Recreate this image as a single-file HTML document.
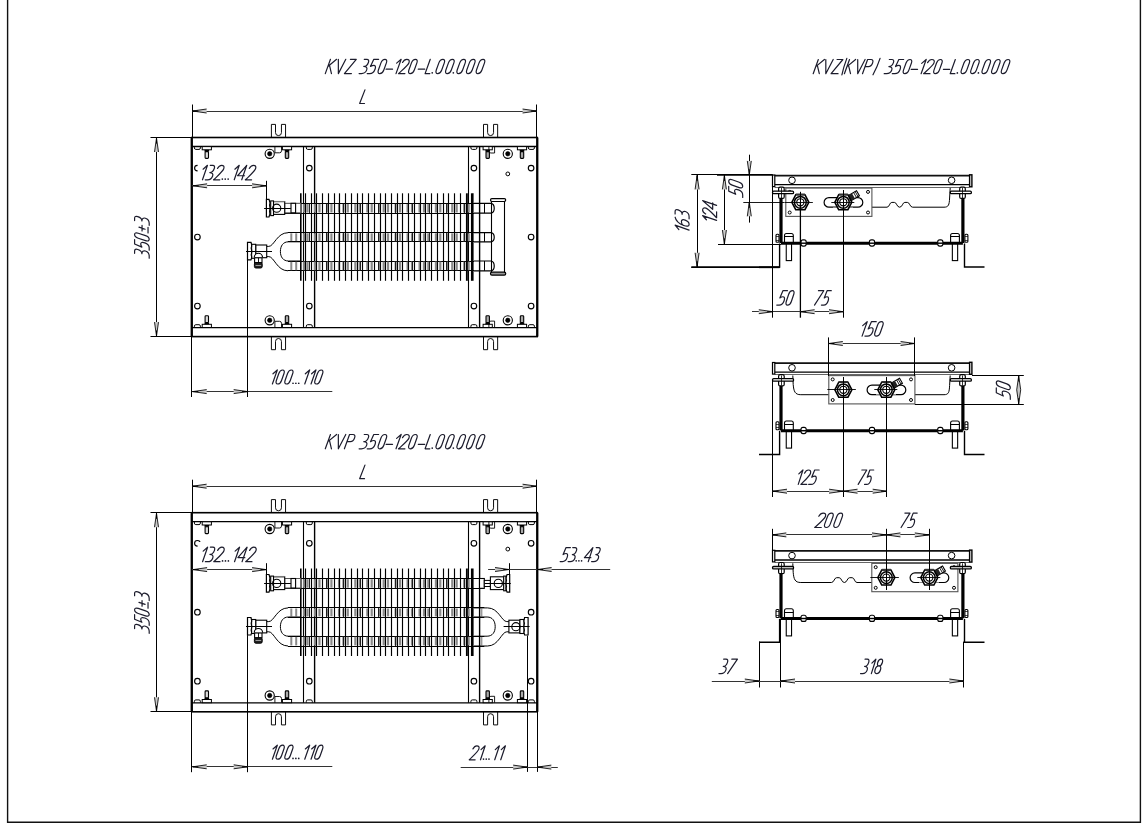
<!DOCTYPE html><html><head><meta charset="utf-8"><style>html,body{margin:0;padding:0;background:#fff;width:1144px;height:824px;overflow:hidden}</style></head><body><svg width="1144" height="824" viewBox="0 0 1144 824" style="display:block">
<rect width="1144" height="824" fill="#fff"/>
<path d="M7.6,0 V822.3 H1140.4 V0" fill="none" stroke="#111" stroke-width="1.4"/>
<line x1="192.50" y1="104.50" x2="192.50" y2="137.50" stroke="#000" stroke-width="1.0"/>
<line x1="536.50" y1="104.50" x2="536.50" y2="137.50" stroke="#000" stroke-width="1.0"/>
<line x1="192.40" y1="111.50" x2="536.80" y2="111.50" stroke="#333" stroke-width="1.2"/>
<path d="M206.60,109.00 L192.60,111.00 L206.60,113.00 Z" fill="#c8c8c8" stroke="none"/>
<path d="M206.60,109.00 L192.60,111.00 L206.60,113.00" fill="none" stroke="#000" stroke-width="0.85" stroke-linejoin="miter"/>
<line x1="192.60" y1="111.00" x2="198.20" y2="111.00" stroke="#000" stroke-width="1.0"/>
<path d="M522.60,113.00 L536.60,111.00 L522.60,109.00 Z" fill="#c8c8c8" stroke="none"/>
<path d="M522.60,113.00 L536.60,111.00 L522.60,109.00" fill="none" stroke="#000" stroke-width="0.85" stroke-linejoin="miter"/>
<line x1="536.60" y1="111.00" x2="531.00" y2="111.00" stroke="#000" stroke-width="1.0"/>
<g transform="translate(359.65,103.50) scale(1.0827,1)" fill="none" stroke="#1c1c2c" stroke-width="1.2" stroke-linecap="round" stroke-linejoin="round"><path transform="translate(0.00,0) matrix(13.600,0,-4.896,13.600,4.896,-13.600)" d="M0,0 L0,1 L0.33,1" vector-effect="non-scaling-stroke"/></g>
<line x1="150.50" y1="137.50" x2="191.90" y2="137.50" stroke="#000" stroke-width="1.1"/>
<line x1="150.50" y1="336.50" x2="191.90" y2="336.50" stroke="#000" stroke-width="1.1"/>
<line x1="156.50" y1="137.50" x2="156.50" y2="336.60" stroke="#000" stroke-width="1.0"/>
<path d="M158.50,152.00 L156.50,138.00 L154.50,152.00 Z" fill="#c8c8c8" stroke="none"/>
<path d="M158.50,152.00 L156.50,138.00 L154.50,152.00" fill="none" stroke="#000" stroke-width="0.85" stroke-linejoin="miter"/>
<line x1="156.50" y1="138.00" x2="156.50" y2="143.60" stroke="#000" stroke-width="1.0"/>
<path d="M154.50,322.10 L156.50,336.10 L158.50,322.10 Z" fill="#c8c8c8" stroke="none"/>
<path d="M154.50,322.10 L156.50,336.10 L158.50,322.10" fill="none" stroke="#000" stroke-width="0.85" stroke-linejoin="miter"/>
<line x1="156.50" y1="336.10" x2="156.50" y2="330.50" stroke="#000" stroke-width="1.0"/>
<g transform="rotate(-90 149.20 258.70) translate(149.75,258.70) scale(0.9133,1)" fill="none" stroke="#1c1c2c" stroke-width="1.2" stroke-linecap="round" stroke-linejoin="round"><path transform="translate(0.00,0) matrix(14.600,0,-5.256,14.600,5.256,-14.600)" d="M0,0 L0.18,0 C0.31,0 0.37,0.09 0.37,0.22 C0.37,0.38 0.27,0.5 0.15,0.5 C0.33,0.5 0.44,0.6 0.44,0.74 C0.44,0.9 0.33,1 0.16,1 L0,1" vector-effect="non-scaling-stroke"/><path transform="translate(8.76,0) matrix(14.600,0,-5.256,14.600,5.256,-14.600)" d="M0.44,0 L0.1,0 L0.05,0.5 C0.12,0.45 0.19,0.42 0.25,0.42 C0.37,0.42 0.44,0.52 0.44,0.7 C0.44,0.9 0.33,1 0.18,1 L0,1" vector-effect="non-scaling-stroke"/><path transform="translate(17.81,0) matrix(14.600,0,-5.256,14.600,5.256,-14.600)" d="M0,0.25 L0,0.75 C0,0.91 0.08,1 0.19,1 C0.30,1 0.38,0.91 0.38,0.75 L0.38,0.25 C0.38,0.09 0.30,0 0.19,0 C0.08,0 0,0.09 0,0.25 Z" vector-effect="non-scaling-stroke"/><path transform="translate(27.16,0) matrix(14.600,0,-5.256,14.600,5.256,-14.600)" d="M0.21,0.30 L0.21,0.72 M0,0.51 L0.42,0.51 M0,0.92 L0.42,0.92" vector-effect="non-scaling-stroke"/><path transform="translate(35.92,0) matrix(14.600,0,-5.256,14.600,5.256,-14.600)" d="M0,0 L0.18,0 C0.31,0 0.37,0.09 0.37,0.22 C0.37,0.38 0.27,0.5 0.15,0.5 C0.33,0.5 0.44,0.6 0.44,0.74 C0.44,0.9 0.33,1 0.16,1 L0,1" vector-effect="non-scaling-stroke"/></g>
<rect x="191.90" y="137.50" width="345.30" height="199.10" stroke="#000" stroke-width="1.6" fill="none"/>
<line x1="191.70" y1="137.50" x2="191.70" y2="336.60" stroke="#000" stroke-width="2.2"/>
<line x1="537.30" y1="137.50" x2="537.30" y2="336.60" stroke="#000" stroke-width="2.2"/>
<line x1="191.90" y1="146.50" x2="537.20" y2="146.50" stroke="#000" stroke-width="1.3"/>
<line x1="191.90" y1="327.60" x2="537.20" y2="327.60" stroke="#000" stroke-width="1.3"/>
<path d="M271.40,137.40 V124.40 H275.50 V132.60 A2.95,2.95 0 0 0 281.45,132.60 V124.40 H285.55 V137.40" stroke="#000" stroke-width="0.95" fill="none" />
<path d="M271.40,336.60 V349.70 H275.50 V341.50 A2.95,2.95 0 0 1 281.45,341.50 V349.70 H285.55 V336.60" stroke="#000" stroke-width="0.95" fill="none" />
<path d="M483.50,137.40 V124.40 H487.60 V132.60 A2.95,2.95 0 0 0 493.55,132.60 V124.40 H497.65 V137.40" stroke="#000" stroke-width="0.95" fill="none" />
<path d="M483.50,336.60 V349.70 H487.60 V341.50 A2.95,2.95 0 0 1 493.55,341.50 V349.70 H497.65 V336.60" stroke="#000" stroke-width="0.95" fill="none" />
<line x1="303.50" y1="146.50" x2="303.50" y2="327.60" stroke="#000" stroke-width="1.1"/>
<line x1="314.60" y1="146.50" x2="314.60" y2="327.60" stroke="#000" stroke-width="1.4"/>
<line x1="468.50" y1="146.50" x2="468.50" y2="327.60" stroke="#000" stroke-width="1.1"/>
<line x1="479.60" y1="146.50" x2="479.60" y2="327.60" stroke="#000" stroke-width="1.4"/>
<path d="M194.40,146.60 V147.90 Q194.40,149.40 195.80,149.40 H199.00 Q200.40,149.40 200.40,147.90 V146.60" stroke="#000" stroke-width="1.0" fill="none" />
<path d="M306.30,146.60 V147.90 Q306.30,149.40 307.70,149.40 H310.90 Q312.30,149.40 312.30,147.90 V146.60" stroke="#000" stroke-width="1.0" fill="none" />
<path d="M470.90,146.60 V147.90 Q470.90,149.40 472.30,149.40 H475.50 Q476.90,149.40 476.90,147.90 V146.60" stroke="#000" stroke-width="1.0" fill="none" />
<path d="M528.40,146.60 V147.90 Q528.40,149.40 529.80,149.40 H533.00 Q534.40,149.40 534.40,147.90 V146.60" stroke="#000" stroke-width="1.0" fill="none" />
<rect x="202.20" y="146.60" width="9.20" height="3.20" stroke="#000" stroke-width="1.0" fill="#fff"/>
<rect x="204.50" y="149.80" width="4.60" height="1.80" stroke="#000" stroke-width="0" fill="#000"/>
<rect x="205.10" y="151.60" width="3.4" height="6.80" rx="0.8" fill="#ddd" stroke="#000" stroke-width="1.1"/>
<rect x="282.40" y="146.60" width="9.20" height="3.20" stroke="#000" stroke-width="1.0" fill="#fff"/>
<rect x="284.70" y="149.80" width="4.60" height="1.80" stroke="#000" stroke-width="0" fill="#000"/>
<rect x="285.30" y="151.60" width="3.4" height="6.80" rx="0.8" fill="#aaa" stroke="#000" stroke-width="1.1"/>
<rect x="483.10" y="146.60" width="9.20" height="3.20" stroke="#000" stroke-width="1.0" fill="#fff"/>
<rect x="485.40" y="149.80" width="4.60" height="1.80" stroke="#000" stroke-width="0" fill="#000"/>
<rect x="486.00" y="151.60" width="3.4" height="6.80" rx="0.8" fill="#aaa" stroke="#000" stroke-width="1.1"/>
<rect x="517.40" y="146.60" width="9.20" height="3.20" stroke="#000" stroke-width="1.0" fill="#fff"/>
<rect x="519.70" y="149.80" width="4.60" height="1.80" stroke="#000" stroke-width="0" fill="#000"/>
<rect x="520.30" y="151.60" width="3.4" height="6.80" rx="0.8" fill="#aaa" stroke="#000" stroke-width="1.1"/>
<circle cx="269.70" cy="153.80" r="4.60" stroke="#000" stroke-width="1.1" fill="none"/>
<circle cx="269.70" cy="153.80" r="2.20" stroke="#000" stroke-width="0.6" fill="#000"/>
<circle cx="507.80" cy="153.80" r="4.60" stroke="#000" stroke-width="1.1" fill="none"/>
<circle cx="507.80" cy="153.80" r="2.20" stroke="#000" stroke-width="0.6" fill="#000"/>
<path d="M274.90,146.60 V152.80 H279.50 Q281.50,152.80 281.50,150.80 V146.60" stroke="#000" stroke-width="0.9" fill="none" />
<path d="M494.60,146.60 V153.00 H490.90 Q488.90,153.00 488.90,151.00 V146.60" stroke="#000" stroke-width="0.9" fill="none" />
<circle cx="197.40" cy="168.10" r="2.80" stroke="#000" stroke-width="1.15" fill="none"/>
<circle cx="309.30" cy="168.10" r="2.80" stroke="#000" stroke-width="1.15" fill="none"/>
<circle cx="473.90" cy="168.10" r="2.80" stroke="#000" stroke-width="1.15" fill="none"/>
<circle cx="531.10" cy="168.10" r="2.80" stroke="#000" stroke-width="1.15" fill="none"/>
<path d="M194.40,327.50 V326.20 Q194.40,324.70 195.80,324.70 H199.00 Q200.40,324.70 200.40,326.20 V327.50" stroke="#000" stroke-width="1.0" fill="none" />
<path d="M306.30,327.50 V326.20 Q306.30,324.70 307.70,324.70 H310.90 Q312.30,324.70 312.30,326.20 V327.50" stroke="#000" stroke-width="1.0" fill="none" />
<path d="M470.90,327.50 V326.20 Q470.90,324.70 472.30,324.70 H475.50 Q476.90,324.70 476.90,326.20 V327.50" stroke="#000" stroke-width="1.0" fill="none" />
<path d="M528.40,327.50 V326.20 Q528.40,324.70 529.80,324.70 H533.00 Q534.40,324.70 534.40,326.20 V327.50" stroke="#000" stroke-width="1.0" fill="none" />
<rect x="202.20" y="324.30" width="9.20" height="3.20" stroke="#000" stroke-width="1.0" fill="#fff"/>
<rect x="204.50" y="322.50" width="4.60" height="1.80" stroke="#000" stroke-width="0" fill="#000"/>
<rect x="205.10" y="315.70" width="3.4" height="6.80" rx="0.8" fill="#ddd" stroke="#000" stroke-width="1.1"/>
<rect x="282.40" y="324.30" width="9.20" height="3.20" stroke="#000" stroke-width="1.0" fill="#fff"/>
<rect x="284.70" y="322.50" width="4.60" height="1.80" stroke="#000" stroke-width="0" fill="#000"/>
<rect x="285.30" y="315.70" width="3.4" height="6.80" rx="0.8" fill="#aaa" stroke="#000" stroke-width="1.1"/>
<rect x="483.10" y="324.30" width="9.20" height="3.20" stroke="#000" stroke-width="1.0" fill="#fff"/>
<rect x="485.40" y="322.50" width="4.60" height="1.80" stroke="#000" stroke-width="0" fill="#000"/>
<rect x="486.00" y="315.70" width="3.4" height="6.80" rx="0.8" fill="#aaa" stroke="#000" stroke-width="1.1"/>
<rect x="517.40" y="324.30" width="9.20" height="3.20" stroke="#000" stroke-width="1.0" fill="#fff"/>
<rect x="519.70" y="322.50" width="4.60" height="1.80" stroke="#000" stroke-width="0" fill="#000"/>
<rect x="520.30" y="315.70" width="3.4" height="6.80" rx="0.8" fill="#aaa" stroke="#000" stroke-width="1.1"/>
<circle cx="269.70" cy="320.30" r="4.60" stroke="#000" stroke-width="1.1" fill="none"/>
<circle cx="269.70" cy="320.30" r="2.20" stroke="#000" stroke-width="0.6" fill="#000"/>
<circle cx="507.80" cy="320.30" r="4.60" stroke="#000" stroke-width="1.1" fill="none"/>
<circle cx="507.80" cy="320.30" r="2.20" stroke="#000" stroke-width="0.6" fill="#000"/>
<path d="M274.90,327.50 V321.30 H279.50 Q281.50,321.30 281.50,323.30 V327.50" stroke="#000" stroke-width="0.9" fill="none" />
<path d="M494.60,327.50 V321.10 H490.90 Q488.90,321.10 488.90,323.10 V327.50" stroke="#000" stroke-width="0.9" fill="none" />
<circle cx="197.40" cy="306.00" r="2.80" stroke="#000" stroke-width="1.15" fill="none"/>
<circle cx="309.30" cy="306.00" r="2.80" stroke="#000" stroke-width="1.15" fill="none"/>
<circle cx="473.90" cy="306.00" r="2.80" stroke="#000" stroke-width="1.15" fill="none"/>
<circle cx="531.10" cy="306.00" r="2.80" stroke="#000" stroke-width="1.15" fill="none"/>
<circle cx="197.40" cy="237.00" r="2.80" stroke="#000" stroke-width="1.15" fill="none"/>
<circle cx="531.10" cy="237.00" r="2.80" stroke="#000" stroke-width="1.15" fill="none"/>
<circle cx="507.80" cy="173.90" r="1.90" stroke="#000" stroke-width="1.0" fill="none"/>
<line x1="284.80" y1="203.50" x2="474.00" y2="203.50" stroke="#000" stroke-width="1.2"/>
<line x1="284.80" y1="213.50" x2="474.00" y2="213.50" stroke="#000" stroke-width="1.2"/>
<line x1="288.00" y1="232.50" x2="474.00" y2="232.50" stroke="#000" stroke-width="1.2"/>
<line x1="288.00" y1="241.50" x2="474.00" y2="241.50" stroke="#000" stroke-width="1.2"/>
<rect x="290.30" y="233.30" width="2.00" height="7.90" stroke="#000" stroke-width="0" fill="#8a8a8a"/>
<rect x="295.20" y="233.30" width="2.00" height="7.90" stroke="#000" stroke-width="0" fill="#8a8a8a"/>
<line x1="288.00" y1="261.50" x2="474.00" y2="261.50" stroke="#000" stroke-width="1.2"/>
<line x1="288.00" y1="270.50" x2="474.00" y2="270.50" stroke="#000" stroke-width="1.2"/>
<rect x="290.30" y="261.60" width="2.00" height="8.60" stroke="#000" stroke-width="0" fill="#8a8a8a"/>
<rect x="295.20" y="261.60" width="2.00" height="8.60" stroke="#000" stroke-width="0" fill="#8a8a8a"/>
<rect x="303.05" y="204.00" width="2.20" height="8.50" stroke="#000" stroke-width="0" fill="#8a8a8a"/>
<rect x="306.40" y="204.00" width="2.20" height="8.50" stroke="#000" stroke-width="0" fill="#8a8a8a"/>
<line x1="309.50" y1="203.40" x2="309.50" y2="213.10" stroke="#111" stroke-width="0.9"/>
<rect x="313.98" y="204.00" width="2.20" height="8.50" stroke="#000" stroke-width="0" fill="#8a8a8a"/>
<rect x="318.37" y="204.00" width="2.20" height="8.50" stroke="#000" stroke-width="0" fill="#8a8a8a"/>
<rect x="325.95" y="204.00" width="2.20" height="8.50" stroke="#000" stroke-width="0" fill="#8a8a8a"/>
<line x1="326.50" y1="203.40" x2="326.50" y2="213.10" stroke="#111" stroke-width="0.9"/>
<rect x="330.33" y="204.00" width="2.20" height="8.50" stroke="#000" stroke-width="0" fill="#8a8a8a"/>
<rect x="337.92" y="204.00" width="2.20" height="8.50" stroke="#000" stroke-width="0" fill="#8a8a8a"/>
<rect x="342.30" y="204.00" width="2.20" height="8.50" stroke="#000" stroke-width="0" fill="#8a8a8a"/>
<line x1="343.50" y1="203.40" x2="343.50" y2="213.10" stroke="#111" stroke-width="0.9"/>
<rect x="346.68" y="204.00" width="2.20" height="8.50" stroke="#000" stroke-width="0" fill="#8a8a8a"/>
<rect x="354.26" y="204.00" width="2.20" height="8.50" stroke="#000" stroke-width="0" fill="#8a8a8a"/>
<rect x="358.65" y="204.00" width="2.20" height="8.50" stroke="#000" stroke-width="0" fill="#8a8a8a"/>
<line x1="360.50" y1="203.40" x2="360.50" y2="213.10" stroke="#111" stroke-width="0.9"/>
<rect x="366.23" y="204.00" width="2.20" height="8.50" stroke="#000" stroke-width="0" fill="#8a8a8a"/>
<rect x="370.61" y="204.00" width="2.20" height="8.50" stroke="#000" stroke-width="0" fill="#8a8a8a"/>
<rect x="378.20" y="204.00" width="2.20" height="8.50" stroke="#000" stroke-width="0" fill="#8a8a8a"/>
<line x1="378.50" y1="203.40" x2="378.50" y2="213.10" stroke="#111" stroke-width="0.9"/>
<rect x="382.58" y="204.00" width="2.20" height="8.50" stroke="#000" stroke-width="0" fill="#8a8a8a"/>
<rect x="386.96" y="204.00" width="2.20" height="8.50" stroke="#000" stroke-width="0" fill="#8a8a8a"/>
<rect x="394.55" y="204.00" width="2.20" height="8.50" stroke="#000" stroke-width="0" fill="#8a8a8a"/>
<line x1="395.50" y1="203.40" x2="395.50" y2="213.10" stroke="#111" stroke-width="0.9"/>
<rect x="398.93" y="204.00" width="2.20" height="8.50" stroke="#000" stroke-width="0" fill="#8a8a8a"/>
<rect x="406.51" y="204.00" width="2.20" height="8.50" stroke="#000" stroke-width="0" fill="#8a8a8a"/>
<rect x="410.89" y="204.00" width="2.20" height="8.50" stroke="#000" stroke-width="0" fill="#8a8a8a"/>
<line x1="412.50" y1="203.40" x2="412.50" y2="213.10" stroke="#111" stroke-width="0.9"/>
<rect x="418.48" y="204.00" width="2.20" height="8.50" stroke="#000" stroke-width="0" fill="#8a8a8a"/>
<rect x="422.86" y="204.00" width="2.20" height="8.50" stroke="#000" stroke-width="0" fill="#8a8a8a"/>
<rect x="427.24" y="204.00" width="2.20" height="8.50" stroke="#000" stroke-width="0" fill="#8a8a8a"/>
<line x1="429.50" y1="203.40" x2="429.50" y2="213.10" stroke="#111" stroke-width="0.9"/>
<rect x="434.83" y="204.00" width="2.20" height="8.50" stroke="#000" stroke-width="0" fill="#8a8a8a"/>
<rect x="439.21" y="204.00" width="2.20" height="8.50" stroke="#000" stroke-width="0" fill="#8a8a8a"/>
<rect x="446.79" y="204.00" width="2.20" height="8.50" stroke="#000" stroke-width="0" fill="#8a8a8a"/>
<line x1="446.50" y1="203.40" x2="446.50" y2="213.10" stroke="#111" stroke-width="0.9"/>
<rect x="451.18" y="204.00" width="2.20" height="8.50" stroke="#000" stroke-width="0" fill="#8a8a8a"/>
<rect x="455.56" y="204.00" width="2.20" height="8.50" stroke="#000" stroke-width="0" fill="#8a8a8a"/>
<rect x="463.14" y="204.00" width="2.20" height="8.50" stroke="#000" stroke-width="0" fill="#8a8a8a"/>
<line x1="464.50" y1="203.40" x2="464.50" y2="213.10" stroke="#111" stroke-width="0.9"/>
<rect x="467.52" y="204.00" width="2.20" height="8.50" stroke="#000" stroke-width="0" fill="#8a8a8a"/>
<rect x="303.05" y="233.30" width="2.20" height="7.90" stroke="#000" stroke-width="0" fill="#8a8a8a"/>
<rect x="306.40" y="233.30" width="2.20" height="7.90" stroke="#000" stroke-width="0" fill="#8a8a8a"/>
<line x1="309.50" y1="232.70" x2="309.50" y2="241.80" stroke="#111" stroke-width="0.9"/>
<rect x="313.98" y="233.30" width="2.20" height="7.90" stroke="#000" stroke-width="0" fill="#8a8a8a"/>
<rect x="318.37" y="233.30" width="2.20" height="7.90" stroke="#000" stroke-width="0" fill="#8a8a8a"/>
<rect x="325.95" y="233.30" width="2.20" height="7.90" stroke="#000" stroke-width="0" fill="#8a8a8a"/>
<line x1="326.50" y1="232.70" x2="326.50" y2="241.80" stroke="#111" stroke-width="0.9"/>
<rect x="330.33" y="233.30" width="2.20" height="7.90" stroke="#000" stroke-width="0" fill="#8a8a8a"/>
<rect x="337.92" y="233.30" width="2.20" height="7.90" stroke="#000" stroke-width="0" fill="#8a8a8a"/>
<rect x="342.30" y="233.30" width="2.20" height="7.90" stroke="#000" stroke-width="0" fill="#8a8a8a"/>
<line x1="343.50" y1="232.70" x2="343.50" y2="241.80" stroke="#111" stroke-width="0.9"/>
<rect x="346.68" y="233.30" width="2.20" height="7.90" stroke="#000" stroke-width="0" fill="#8a8a8a"/>
<rect x="354.26" y="233.30" width="2.20" height="7.90" stroke="#000" stroke-width="0" fill="#8a8a8a"/>
<rect x="358.65" y="233.30" width="2.20" height="7.90" stroke="#000" stroke-width="0" fill="#8a8a8a"/>
<line x1="360.50" y1="232.70" x2="360.50" y2="241.80" stroke="#111" stroke-width="0.9"/>
<rect x="366.23" y="233.30" width="2.20" height="7.90" stroke="#000" stroke-width="0" fill="#8a8a8a"/>
<rect x="370.61" y="233.30" width="2.20" height="7.90" stroke="#000" stroke-width="0" fill="#8a8a8a"/>
<rect x="378.20" y="233.30" width="2.20" height="7.90" stroke="#000" stroke-width="0" fill="#8a8a8a"/>
<line x1="378.50" y1="232.70" x2="378.50" y2="241.80" stroke="#111" stroke-width="0.9"/>
<rect x="382.58" y="233.30" width="2.20" height="7.90" stroke="#000" stroke-width="0" fill="#8a8a8a"/>
<rect x="386.96" y="233.30" width="2.20" height="7.90" stroke="#000" stroke-width="0" fill="#8a8a8a"/>
<rect x="394.55" y="233.30" width="2.20" height="7.90" stroke="#000" stroke-width="0" fill="#8a8a8a"/>
<line x1="395.50" y1="232.70" x2="395.50" y2="241.80" stroke="#111" stroke-width="0.9"/>
<rect x="398.93" y="233.30" width="2.20" height="7.90" stroke="#000" stroke-width="0" fill="#8a8a8a"/>
<rect x="406.51" y="233.30" width="2.20" height="7.90" stroke="#000" stroke-width="0" fill="#8a8a8a"/>
<rect x="410.89" y="233.30" width="2.20" height="7.90" stroke="#000" stroke-width="0" fill="#8a8a8a"/>
<line x1="412.50" y1="232.70" x2="412.50" y2="241.80" stroke="#111" stroke-width="0.9"/>
<rect x="418.48" y="233.30" width="2.20" height="7.90" stroke="#000" stroke-width="0" fill="#8a8a8a"/>
<rect x="422.86" y="233.30" width="2.20" height="7.90" stroke="#000" stroke-width="0" fill="#8a8a8a"/>
<rect x="427.24" y="233.30" width="2.20" height="7.90" stroke="#000" stroke-width="0" fill="#8a8a8a"/>
<line x1="429.50" y1="232.70" x2="429.50" y2="241.80" stroke="#111" stroke-width="0.9"/>
<rect x="434.83" y="233.30" width="2.20" height="7.90" stroke="#000" stroke-width="0" fill="#8a8a8a"/>
<rect x="439.21" y="233.30" width="2.20" height="7.90" stroke="#000" stroke-width="0" fill="#8a8a8a"/>
<rect x="446.79" y="233.30" width="2.20" height="7.90" stroke="#000" stroke-width="0" fill="#8a8a8a"/>
<line x1="446.50" y1="232.70" x2="446.50" y2="241.80" stroke="#111" stroke-width="0.9"/>
<rect x="451.18" y="233.30" width="2.20" height="7.90" stroke="#000" stroke-width="0" fill="#8a8a8a"/>
<rect x="455.56" y="233.30" width="2.20" height="7.90" stroke="#000" stroke-width="0" fill="#8a8a8a"/>
<rect x="463.14" y="233.30" width="2.20" height="7.90" stroke="#000" stroke-width="0" fill="#8a8a8a"/>
<line x1="464.50" y1="232.70" x2="464.50" y2="241.80" stroke="#111" stroke-width="0.9"/>
<rect x="467.52" y="233.30" width="2.20" height="7.90" stroke="#000" stroke-width="0" fill="#8a8a8a"/>
<rect x="303.05" y="261.60" width="2.20" height="8.60" stroke="#000" stroke-width="0" fill="#8a8a8a"/>
<rect x="306.40" y="261.60" width="2.20" height="8.60" stroke="#000" stroke-width="0" fill="#8a8a8a"/>
<line x1="309.50" y1="261.00" x2="309.50" y2="270.80" stroke="#111" stroke-width="0.9"/>
<rect x="313.98" y="261.60" width="2.20" height="8.60" stroke="#000" stroke-width="0" fill="#8a8a8a"/>
<rect x="318.37" y="261.60" width="2.20" height="8.60" stroke="#000" stroke-width="0" fill="#8a8a8a"/>
<rect x="325.95" y="261.60" width="2.20" height="8.60" stroke="#000" stroke-width="0" fill="#8a8a8a"/>
<line x1="326.50" y1="261.00" x2="326.50" y2="270.80" stroke="#111" stroke-width="0.9"/>
<rect x="330.33" y="261.60" width="2.20" height="8.60" stroke="#000" stroke-width="0" fill="#8a8a8a"/>
<rect x="337.92" y="261.60" width="2.20" height="8.60" stroke="#000" stroke-width="0" fill="#8a8a8a"/>
<rect x="342.30" y="261.60" width="2.20" height="8.60" stroke="#000" stroke-width="0" fill="#8a8a8a"/>
<line x1="343.50" y1="261.00" x2="343.50" y2="270.80" stroke="#111" stroke-width="0.9"/>
<rect x="346.68" y="261.60" width="2.20" height="8.60" stroke="#000" stroke-width="0" fill="#8a8a8a"/>
<rect x="354.26" y="261.60" width="2.20" height="8.60" stroke="#000" stroke-width="0" fill="#8a8a8a"/>
<rect x="358.65" y="261.60" width="2.20" height="8.60" stroke="#000" stroke-width="0" fill="#8a8a8a"/>
<line x1="360.50" y1="261.00" x2="360.50" y2="270.80" stroke="#111" stroke-width="0.9"/>
<rect x="366.23" y="261.60" width="2.20" height="8.60" stroke="#000" stroke-width="0" fill="#8a8a8a"/>
<rect x="370.61" y="261.60" width="2.20" height="8.60" stroke="#000" stroke-width="0" fill="#8a8a8a"/>
<rect x="378.20" y="261.60" width="2.20" height="8.60" stroke="#000" stroke-width="0" fill="#8a8a8a"/>
<line x1="378.50" y1="261.00" x2="378.50" y2="270.80" stroke="#111" stroke-width="0.9"/>
<rect x="382.58" y="261.60" width="2.20" height="8.60" stroke="#000" stroke-width="0" fill="#8a8a8a"/>
<rect x="386.96" y="261.60" width="2.20" height="8.60" stroke="#000" stroke-width="0" fill="#8a8a8a"/>
<rect x="394.55" y="261.60" width="2.20" height="8.60" stroke="#000" stroke-width="0" fill="#8a8a8a"/>
<line x1="395.50" y1="261.00" x2="395.50" y2="270.80" stroke="#111" stroke-width="0.9"/>
<rect x="398.93" y="261.60" width="2.20" height="8.60" stroke="#000" stroke-width="0" fill="#8a8a8a"/>
<rect x="406.51" y="261.60" width="2.20" height="8.60" stroke="#000" stroke-width="0" fill="#8a8a8a"/>
<rect x="410.89" y="261.60" width="2.20" height="8.60" stroke="#000" stroke-width="0" fill="#8a8a8a"/>
<line x1="412.50" y1="261.00" x2="412.50" y2="270.80" stroke="#111" stroke-width="0.9"/>
<rect x="418.48" y="261.60" width="2.20" height="8.60" stroke="#000" stroke-width="0" fill="#8a8a8a"/>
<rect x="422.86" y="261.60" width="2.20" height="8.60" stroke="#000" stroke-width="0" fill="#8a8a8a"/>
<rect x="427.24" y="261.60" width="2.20" height="8.60" stroke="#000" stroke-width="0" fill="#8a8a8a"/>
<line x1="429.50" y1="261.00" x2="429.50" y2="270.80" stroke="#111" stroke-width="0.9"/>
<rect x="434.83" y="261.60" width="2.20" height="8.60" stroke="#000" stroke-width="0" fill="#8a8a8a"/>
<rect x="439.21" y="261.60" width="2.20" height="8.60" stroke="#000" stroke-width="0" fill="#8a8a8a"/>
<rect x="446.79" y="261.60" width="2.20" height="8.60" stroke="#000" stroke-width="0" fill="#8a8a8a"/>
<line x1="446.50" y1="261.00" x2="446.50" y2="270.80" stroke="#111" stroke-width="0.9"/>
<rect x="451.18" y="261.60" width="2.20" height="8.60" stroke="#000" stroke-width="0" fill="#8a8a8a"/>
<rect x="455.56" y="261.60" width="2.20" height="8.60" stroke="#000" stroke-width="0" fill="#8a8a8a"/>
<rect x="463.14" y="261.60" width="2.20" height="8.60" stroke="#000" stroke-width="0" fill="#8a8a8a"/>
<line x1="464.50" y1="261.00" x2="464.50" y2="270.80" stroke="#111" stroke-width="0.9"/>
<rect x="467.52" y="261.60" width="2.20" height="8.60" stroke="#000" stroke-width="0" fill="#8a8a8a"/>
<line x1="300.80" y1="193.30" x2="300.80" y2="280.80" stroke="#000" stroke-width="1.6"/>
<line x1="305.50" y1="193.30" x2="305.50" y2="280.80" stroke="#000" stroke-width="1.15"/>
<line x1="311.50" y1="193.30" x2="311.50" y2="280.80" stroke="#000" stroke-width="1.15"/>
<line x1="316.50" y1="193.30" x2="316.50" y2="280.80" stroke="#000" stroke-width="1.15"/>
<line x1="322.50" y1="193.30" x2="322.50" y2="280.80" stroke="#000" stroke-width="1.15"/>
<line x1="328.50" y1="193.30" x2="328.50" y2="280.80" stroke="#000" stroke-width="1.15"/>
<line x1="334.50" y1="193.30" x2="334.50" y2="280.80" stroke="#000" stroke-width="1.15"/>
<line x1="339.50" y1="193.30" x2="339.50" y2="280.80" stroke="#000" stroke-width="1.15"/>
<line x1="345.50" y1="193.30" x2="345.50" y2="280.80" stroke="#000" stroke-width="1.15"/>
<line x1="351.50" y1="193.30" x2="351.50" y2="280.80" stroke="#000" stroke-width="1.15"/>
<line x1="357.50" y1="193.30" x2="357.50" y2="280.80" stroke="#000" stroke-width="1.15"/>
<line x1="362.50" y1="193.30" x2="362.50" y2="280.80" stroke="#000" stroke-width="1.15"/>
<line x1="368.50" y1="193.30" x2="368.50" y2="280.80" stroke="#000" stroke-width="1.15"/>
<line x1="374.50" y1="193.30" x2="374.50" y2="280.80" stroke="#000" stroke-width="1.15"/>
<line x1="380.50" y1="193.30" x2="380.50" y2="280.80" stroke="#000" stroke-width="1.15"/>
<line x1="385.50" y1="193.30" x2="385.50" y2="280.80" stroke="#000" stroke-width="1.15"/>
<line x1="391.50" y1="193.30" x2="391.50" y2="280.80" stroke="#000" stroke-width="1.15"/>
<line x1="397.50" y1="193.30" x2="397.50" y2="280.80" stroke="#000" stroke-width="1.15"/>
<line x1="402.50" y1="193.30" x2="402.50" y2="280.80" stroke="#000" stroke-width="1.15"/>
<line x1="408.50" y1="193.30" x2="408.50" y2="280.80" stroke="#000" stroke-width="1.15"/>
<line x1="414.50" y1="193.30" x2="414.50" y2="280.80" stroke="#000" stroke-width="1.15"/>
<line x1="420.50" y1="193.30" x2="420.50" y2="280.80" stroke="#000" stroke-width="1.15"/>
<line x1="425.50" y1="193.30" x2="425.50" y2="280.80" stroke="#000" stroke-width="1.15"/>
<line x1="431.50" y1="193.30" x2="431.50" y2="280.80" stroke="#000" stroke-width="1.15"/>
<line x1="437.50" y1="193.30" x2="437.50" y2="280.80" stroke="#000" stroke-width="1.15"/>
<line x1="443.50" y1="193.30" x2="443.50" y2="280.80" stroke="#000" stroke-width="1.15"/>
<line x1="448.50" y1="193.30" x2="448.50" y2="280.80" stroke="#000" stroke-width="1.15"/>
<line x1="454.50" y1="193.30" x2="454.50" y2="280.80" stroke="#000" stroke-width="1.15"/>
<line x1="460.50" y1="193.30" x2="460.50" y2="280.80" stroke="#000" stroke-width="1.15"/>
<line x1="466.50" y1="193.30" x2="466.50" y2="280.80" stroke="#000" stroke-width="1.15"/>
<line x1="471.50" y1="193.30" x2="471.50" y2="280.80" stroke="#000" stroke-width="1.15"/>
<line x1="472.80" y1="193.30" x2="472.80" y2="280.80" stroke="#000" stroke-width="1.6"/>
<line x1="467.50" y1="193.30" x2="467.50" y2="280.80" stroke="#000" stroke-width="0.8"/>
<rect x="284.70" y="203.30" width="16.00" height="9.50" stroke="#555" stroke-width="1.0" fill="#fff"/>
<rect x="291.00" y="203.30" width="4.60" height="9.50" stroke="#000" stroke-width="1.1" fill="#fff"/>
<rect x="273.50" y="201.60" width="11.20" height="12.80" stroke="#000" stroke-width="1.1" fill="#fff"/>
<line x1="273.50" y1="201.50" x2="284.70" y2="201.50" stroke="#777" stroke-width="1.1"/>
<rect x="270.70" y="200.90" width="2.80" height="14.70" stroke="#000" stroke-width="1.1" fill="#fff"/>
<circle cx="276.70" cy="208.20" r="4.10" stroke="#000" stroke-width="1.1" fill="none"/>
<path d="M266.4,199.3 H269.0 Q270.5,203 269.6,205 Q270.5,208.2 269.6,211.4 Q270.5,213.5 269.0,217.0 H266.4 Z" stroke="#000" stroke-width="1.2" fill="#fff" />
<line x1="264.10" y1="208.50" x2="290.90" y2="208.50" stroke="#000" stroke-width="1.0"/>
<path d="M266.7,246.4 L268.8,246.4 C274,246.4 277,232.7 288,232.7 M266.7,256.6 L268.8,256.6 C274,256.6 277,270.8 288,270.8" stroke="#000" stroke-width="1.0" fill="none" />
<path d="M300.8,241.8 L288.5,241.8 C283.0,241.8 280.4,246.0 280.4,251.5 C280.4,256.8 283.0,261.0 288.5,261.0 L300.8,261.0" stroke="#000" stroke-width="1.0" fill="none" />
<rect x="255.70" y="245.00" width="11.00" height="12.70" stroke="#000" stroke-width="1.1" fill="#fff"/>
<rect x="251.60" y="244.30" width="4.10" height="14.00" stroke="#000" stroke-width="1.1" fill="#fff"/>
<path d="M247.5,242.3 H251.0 Q252.2,246 251.2,248 Q252.2,251.5 251.2,255 Q252.2,257 251.0,259.8 H247.5 Z" stroke="#000" stroke-width="1.2" fill="#fff" />
<path d="M254.2,257.50 A4.2,4.2 0 0 1 262.6,257.50" fill="#fff" stroke="#000" stroke-width="1.1"/>
<rect x="254.60" y="257.80" width="7.40" height="4.80" stroke="#000" stroke-width="1.1" fill="#fff"/>
<line x1="258.50" y1="257.80" x2="258.50" y2="262.60" stroke="#000" stroke-width="0.9"/>
<rect x="254.4" y="262.60" width="7.8" height="5.4" rx="1.5" fill="#222" stroke="#000" stroke-width="1"/>
<line x1="255.50" y1="265.50" x2="261.20" y2="265.50" stroke="#bbb" stroke-width="0.8"/>
<line x1="246.00" y1="251.50" x2="272.00" y2="251.50" stroke="#000" stroke-width="1.0"/>
<line x1="491.50" y1="200.50" x2="491.50" y2="273.00" stroke="#000" stroke-width="1.1"/>
<line x1="504.50" y1="200.50" x2="504.50" y2="273.00" stroke="#000" stroke-width="1.1"/>
<rect x="490.5" y="198.70" width="15.2" height="2.8" rx="1.4" fill="#fff" stroke="#000" stroke-width="1.2"/>
<rect x="490.5" y="272.20" width="15.2" height="3.0" rx="1.4" fill="#999" stroke="#000" stroke-width="1.2"/>
<path d="M474,203.4 L491.3,203.4 C495.2,204.4 495.2,212.1 491.3,213.1 L474,213.1" stroke="#000" stroke-width="1.2" fill="none" />
<line x1="484.50" y1="203.40" x2="484.50" y2="213.10" stroke="#000" stroke-width="1.0"/>
<path d="M474,232.7 L491.3,232.7 C495.2,233.7 495.2,240.8 491.3,241.8 L474,241.8" stroke="#000" stroke-width="1.2" fill="none" />
<line x1="484.50" y1="232.70" x2="484.50" y2="241.80" stroke="#000" stroke-width="1.0"/>
<path d="M474,261.0 L491.3,261.0 C495.2,262.0 495.2,269.8 491.3,270.8 L474,270.8" stroke="#000" stroke-width="1.2" fill="none" />
<line x1="484.50" y1="261.00" x2="484.50" y2="270.80" stroke="#000" stroke-width="1.0"/>
<line x1="266.50" y1="180.80" x2="266.50" y2="199.60" stroke="#000" stroke-width="1.0"/>
<line x1="191.90" y1="185.50" x2="266.30" y2="185.50" stroke="#333" stroke-width="1.0"/>
<path d="M207.10,183.80 L193.10,185.80 L207.10,187.80 Z" fill="#c8c8c8" stroke="none"/>
<path d="M207.10,183.80 L193.10,185.80 L207.10,187.80" fill="none" stroke="#000" stroke-width="0.85" stroke-linejoin="miter"/>
<line x1="193.10" y1="185.80" x2="198.70" y2="185.80" stroke="#000" stroke-width="1.0"/>
<path d="M252.10,187.80 L266.10,185.80 L252.10,183.80 Z" fill="#c8c8c8" stroke="none"/>
<path d="M252.10,187.80 L266.10,185.80 L252.10,183.80" fill="none" stroke="#000" stroke-width="0.85" stroke-linejoin="miter"/>
<line x1="266.10" y1="185.80" x2="260.50" y2="185.80" stroke="#000" stroke-width="1.0"/>
<rect x="197.60" y="160.00" width="64.40" height="22.00" fill="#fff"/>
<g transform="translate(198.87,179.80) scale(0.9569,1)" fill="none" stroke="#1c1c2c" stroke-width="1.2" stroke-linecap="round" stroke-linejoin="round"><path transform="translate(0.00,0) matrix(14.500,0,-5.220,14.500,5.220,-14.500)" d="M0.04,0.27 L0.26,0 L0.26,1" vector-effect="non-scaling-stroke"/><path transform="translate(6.67,0) matrix(14.500,0,-5.220,14.500,5.220,-14.500)" d="M0,0 L0.18,0 C0.31,0 0.37,0.09 0.37,0.22 C0.37,0.38 0.27,0.5 0.15,0.5 C0.33,0.5 0.44,0.6 0.44,0.74 C0.44,0.9 0.33,1 0.16,1 L0,1" vector-effect="non-scaling-stroke"/><path transform="translate(15.37,0) matrix(14.500,0,-5.220,14.500,5.220,-14.500)" d="M0,0.22 C0.03,0.07 0.11,0 0.22,0 C0.36,0 0.46,0.08 0.46,0.24 C0.46,0.42 0.25,0.66 0,1 L0.45,1" vector-effect="non-scaling-stroke"/><circle cx="23.45" cy="-0.75" r="0.85" fill="#1c1c2c" stroke="none" transform="scale(1.0450,1)"/><circle cx="26.36" cy="-0.75" r="0.85" fill="#1c1c2c" stroke="none" transform="scale(1.0450,1)"/><circle cx="29.28" cy="-0.75" r="0.85" fill="#1c1c2c" stroke="none" transform="scale(1.0450,1)"/><path transform="translate(33.21,0) matrix(14.500,0,-5.220,14.500,5.220,-14.500)" d="M0.04,0.27 L0.26,0 L0.26,1" vector-effect="non-scaling-stroke"/><path transform="translate(39.88,0) matrix(14.500,0,-5.220,14.500,5.220,-14.500)" d="M0.34,1 L0.34,0 L-0.06,0.72 L0.44,0.72" vector-effect="non-scaling-stroke"/><path transform="translate(48.58,0) matrix(14.500,0,-5.220,14.500,5.220,-14.500)" d="M0,0.22 C0.03,0.07 0.11,0 0.22,0 C0.36,0 0.46,0.08 0.46,0.24 C0.46,0.42 0.25,0.66 0,1 L0.45,1" vector-effect="non-scaling-stroke"/></g>
<line x1="191.50" y1="336.60" x2="191.50" y2="397.00" stroke="#000" stroke-width="1.0"/>
<line x1="247.50" y1="259.90" x2="247.50" y2="397.00" stroke="#000" stroke-width="1.0"/>
<line x1="191.90" y1="391.50" x2="332.30" y2="391.50" stroke="#333" stroke-width="1.0"/>
<path d="M206.70,389.60 L192.70,391.60 L206.70,393.60 Z" fill="#c8c8c8" stroke="none"/>
<path d="M206.70,389.60 L192.70,391.60 L206.70,393.60" fill="none" stroke="#000" stroke-width="0.85" stroke-linejoin="miter"/>
<line x1="192.70" y1="391.60" x2="198.30" y2="391.60" stroke="#000" stroke-width="1.0"/>
<path d="M233.70,393.60 L247.70,391.60 L233.70,389.60 Z" fill="#c8c8c8" stroke="none"/>
<path d="M233.70,393.60 L247.70,391.60 L233.70,389.60" fill="none" stroke="#000" stroke-width="0.85" stroke-linejoin="miter"/>
<line x1="247.70" y1="391.60" x2="242.10" y2="391.60" stroke="#000" stroke-width="1.0"/>
<g transform="translate(268.84,384.00) scale(0.9752,1)" fill="none" stroke="#1c1c2c" stroke-width="1.2" stroke-linecap="round" stroke-linejoin="round"><path transform="translate(0.00,0) matrix(14.000,0,-5.040,14.000,5.040,-14.000)" d="M0.04,0.27 L0.26,0 L0.26,1" vector-effect="non-scaling-stroke"/><path transform="translate(6.44,0) matrix(14.000,0,-5.040,14.000,5.040,-14.000)" d="M0,0.25 L0,0.75 C0,0.91 0.08,1 0.19,1 C0.30,1 0.38,0.91 0.38,0.75 L0.38,0.25 C0.38,0.09 0.30,0 0.19,0 C0.08,0 0,0.09 0,0.25 Z" vector-effect="non-scaling-stroke"/><path transform="translate(15.40,0) matrix(14.000,0,-5.040,14.000,5.040,-14.000)" d="M0,0.25 L0,0.75 C0,0.91 0.08,1 0.19,1 C0.30,1 0.38,0.91 0.38,0.75 L0.38,0.25 C0.38,0.09 0.30,0 0.19,0 C0.08,0 0,0.09 0,0.25 Z" vector-effect="non-scaling-stroke"/><circle cx="24.17" cy="-0.75" r="0.85" fill="#1c1c2c" stroke="none" transform="scale(1.0254,1)"/><circle cx="27.03" cy="-0.75" r="0.85" fill="#1c1c2c" stroke="none" transform="scale(1.0254,1)"/><circle cx="29.90" cy="-0.75" r="0.85" fill="#1c1c2c" stroke="none" transform="scale(1.0254,1)"/><path transform="translate(33.18,0) matrix(14.000,0,-5.040,14.000,5.040,-14.000)" d="M0.04,0.27 L0.26,0 L0.26,1" vector-effect="non-scaling-stroke"/><path transform="translate(39.62,0) matrix(14.000,0,-5.040,14.000,5.040,-14.000)" d="M0.04,0.27 L0.26,0 L0.26,1" vector-effect="non-scaling-stroke"/><path transform="translate(46.06,0) matrix(14.000,0,-5.040,14.000,5.040,-14.000)" d="M0,0.25 L0,0.75 C0,0.91 0.08,1 0.19,1 C0.30,1 0.38,0.91 0.38,0.75 L0.38,0.25 C0.38,0.09 0.30,0 0.19,0 C0.08,0 0,0.09 0,0.25 Z" vector-effect="non-scaling-stroke"/></g>
<g fill="none" stroke="#1c1c2c" stroke-width="1.2" stroke-linecap="round" stroke-linejoin="round"><path transform="translate(325.30,73.60) matrix(14.300,0,-5.148,14.300,5.148,-14.300)" d="M0,0 L0,1 M0.43,0 L0.0,0.5 M0.09,0.43 L0.43,1" vector-effect="non-scaling-stroke"/><path transform="translate(333.20,73.60) matrix(14.300,0,-5.148,14.300,5.148,-14.300)" d="M0,0 L0.36,1 L0.52,0" vector-effect="non-scaling-stroke"/><path transform="translate(344.40,73.60) matrix(14.300,0,-5.148,14.300,5.148,-14.300)" d="M0.06,0 L0.47,0 L0,1 L0.49,1" vector-effect="non-scaling-stroke"/><path transform="translate(359.10,73.60) matrix(14.300,0,-5.148,14.300,5.148,-14.300)" d="M0,0 L0.18,0 C0.31,0 0.37,0.09 0.37,0.22 C0.37,0.38 0.27,0.5 0.15,0.5 C0.33,0.5 0.44,0.6 0.44,0.74 C0.44,0.9 0.33,1 0.16,1 L0,1" vector-effect="non-scaling-stroke"/><path transform="translate(367.20,73.60) matrix(14.300,0,-5.148,14.300,5.148,-14.300)" d="M0.44,0 L0.1,0 L0.05,0.5 C0.12,0.45 0.19,0.42 0.25,0.42 C0.37,0.42 0.44,0.52 0.44,0.7 C0.44,0.9 0.33,1 0.18,1 L0,1" vector-effect="non-scaling-stroke"/><path transform="translate(377.10,73.60) matrix(14.300,0,-5.148,14.300,5.148,-14.300)" d="M0,0.25 L0,0.75 C0,0.91 0.08,1 0.19,1 C0.30,1 0.38,0.91 0.38,0.75 L0.38,0.25 C0.38,0.09 0.30,0 0.19,0 C0.08,0 0,0.09 0,0.25 Z" vector-effect="non-scaling-stroke"/><path transform="translate(384.50,73.60) matrix(14.300,0,-5.148,14.300,5.148,-14.300)" d="M0,0.69 L0.45,0.69" vector-effect="non-scaling-stroke"/><path transform="translate(392.30,73.60) matrix(14.300,0,-5.148,14.300,5.148,-14.300)" d="M0.04,0.27 L0.26,0 L0.26,1" vector-effect="non-scaling-stroke"/><path transform="translate(398.50,73.60) matrix(14.300,0,-5.148,14.300,5.148,-14.300)" d="M0,0.22 C0.03,0.07 0.11,0 0.22,0 C0.36,0 0.46,0.08 0.46,0.24 C0.46,0.42 0.25,0.66 0,1 L0.45,1" vector-effect="non-scaling-stroke"/><path transform="translate(407.60,73.60) matrix(14.300,0,-5.148,14.300,5.148,-14.300)" d="M0,0.25 L0,0.75 C0,0.91 0.08,1 0.19,1 C0.30,1 0.38,0.91 0.38,0.75 L0.38,0.25 C0.38,0.09 0.30,0 0.19,0 C0.08,0 0,0.09 0,0.25 Z" vector-effect="non-scaling-stroke"/><path transform="translate(416.70,73.60) matrix(14.300,0,-5.148,14.300,5.148,-14.300)" d="M0,0.69 L0.45,0.69" vector-effect="non-scaling-stroke"/><path transform="translate(425.10,73.60) matrix(14.300,0,-5.148,14.300,5.148,-14.300)" d="M0,0 L0,1 L0.33,1" vector-effect="non-scaling-stroke"/><circle cx="432.23" cy="72.85" r="0.85" fill="#1c1c2c" stroke="none"/><path transform="translate(435.00,73.60) matrix(14.300,0,-5.148,14.300,5.148,-14.300)" d="M0,0.25 L0,0.75 C0,0.91 0.08,1 0.19,1 C0.30,1 0.38,0.91 0.38,0.75 L0.38,0.25 C0.38,0.09 0.30,0 0.19,0 C0.08,0 0,0.09 0,0.25 Z" vector-effect="non-scaling-stroke"/><path transform="translate(444.60,73.60) matrix(14.300,0,-5.148,14.300,5.148,-14.300)" d="M0,0.25 L0,0.75 C0,0.91 0.08,1 0.19,1 C0.30,1 0.38,0.91 0.38,0.75 L0.38,0.25 C0.38,0.09 0.30,0 0.19,0 C0.08,0 0,0.09 0,0.25 Z" vector-effect="non-scaling-stroke"/><circle cx="453.33" cy="72.85" r="0.85" fill="#1c1c2c" stroke="none"/><path transform="translate(455.90,73.60) matrix(14.300,0,-5.148,14.300,5.148,-14.300)" d="M0,0.25 L0,0.75 C0,0.91 0.08,1 0.19,1 C0.30,1 0.38,0.91 0.38,0.75 L0.38,0.25 C0.38,0.09 0.30,0 0.19,0 C0.08,0 0,0.09 0,0.25 Z" vector-effect="non-scaling-stroke"/><path transform="translate(465.50,73.60) matrix(14.300,0,-5.148,14.300,5.148,-14.300)" d="M0,0.25 L0,0.75 C0,0.91 0.08,1 0.19,1 C0.30,1 0.38,0.91 0.38,0.75 L0.38,0.25 C0.38,0.09 0.30,0 0.19,0 C0.08,0 0,0.09 0,0.25 Z" vector-effect="non-scaling-stroke"/><path transform="translate(475.20,73.60) matrix(14.300,0,-5.148,14.300,5.148,-14.300)" d="M0,0.25 L0,0.75 C0,0.91 0.08,1 0.19,1 C0.30,1 0.38,0.91 0.38,0.75 L0.38,0.25 C0.38,0.09 0.30,0 0.19,0 C0.08,0 0,0.09 0,0.25 Z" vector-effect="non-scaling-stroke"/></g>
<line x1="192.50" y1="479.70" x2="192.50" y2="512.70" stroke="#000" stroke-width="1.0"/>
<line x1="536.50" y1="479.70" x2="536.50" y2="512.70" stroke="#000" stroke-width="1.0"/>
<line x1="192.40" y1="486.50" x2="536.80" y2="486.50" stroke="#333" stroke-width="1.2"/>
<path d="M206.60,484.20 L192.60,486.20 L206.60,488.20 Z" fill="#c8c8c8" stroke="none"/>
<path d="M206.60,484.20 L192.60,486.20 L206.60,488.20" fill="none" stroke="#000" stroke-width="0.85" stroke-linejoin="miter"/>
<line x1="192.60" y1="486.20" x2="198.20" y2="486.20" stroke="#000" stroke-width="1.0"/>
<path d="M522.60,488.20 L536.60,486.20 L522.60,484.20 Z" fill="#c8c8c8" stroke="none"/>
<path d="M522.60,488.20 L536.60,486.20 L522.60,484.20" fill="none" stroke="#000" stroke-width="0.85" stroke-linejoin="miter"/>
<line x1="536.60" y1="486.20" x2="531.00" y2="486.20" stroke="#000" stroke-width="1.0"/>
<g transform="translate(359.65,478.70) scale(1.0827,1)" fill="none" stroke="#1c1c2c" stroke-width="1.2" stroke-linecap="round" stroke-linejoin="round"><path transform="translate(0.00,0) matrix(13.600,0,-4.896,13.600,4.896,-13.600)" d="M0,0 L0,1 L0.33,1" vector-effect="non-scaling-stroke"/></g>
<line x1="150.50" y1="512.50" x2="191.90" y2="512.50" stroke="#000" stroke-width="1.1"/>
<line x1="150.50" y1="711.50" x2="191.90" y2="711.50" stroke="#000" stroke-width="1.1"/>
<line x1="156.50" y1="512.70" x2="156.50" y2="711.80" stroke="#000" stroke-width="1.0"/>
<path d="M158.50,527.20 L156.50,513.20 L154.50,527.20 Z" fill="#c8c8c8" stroke="none"/>
<path d="M158.50,527.20 L156.50,513.20 L154.50,527.20" fill="none" stroke="#000" stroke-width="0.85" stroke-linejoin="miter"/>
<line x1="156.50" y1="513.20" x2="156.50" y2="518.80" stroke="#000" stroke-width="1.0"/>
<path d="M154.50,697.30 L156.50,711.30 L158.50,697.30 Z" fill="#c8c8c8" stroke="none"/>
<path d="M154.50,697.30 L156.50,711.30 L158.50,697.30" fill="none" stroke="#000" stroke-width="0.85" stroke-linejoin="miter"/>
<line x1="156.50" y1="711.30" x2="156.50" y2="705.70" stroke="#000" stroke-width="1.0"/>
<g transform="rotate(-90 149.20 633.90) translate(149.75,633.90) scale(0.9133,1)" fill="none" stroke="#1c1c2c" stroke-width="1.2" stroke-linecap="round" stroke-linejoin="round"><path transform="translate(0.00,0) matrix(14.600,0,-5.256,14.600,5.256,-14.600)" d="M0,0 L0.18,0 C0.31,0 0.37,0.09 0.37,0.22 C0.37,0.38 0.27,0.5 0.15,0.5 C0.33,0.5 0.44,0.6 0.44,0.74 C0.44,0.9 0.33,1 0.16,1 L0,1" vector-effect="non-scaling-stroke"/><path transform="translate(8.76,0) matrix(14.600,0,-5.256,14.600,5.256,-14.600)" d="M0.44,0 L0.1,0 L0.05,0.5 C0.12,0.45 0.19,0.42 0.25,0.42 C0.37,0.42 0.44,0.52 0.44,0.7 C0.44,0.9 0.33,1 0.18,1 L0,1" vector-effect="non-scaling-stroke"/><path transform="translate(17.81,0) matrix(14.600,0,-5.256,14.600,5.256,-14.600)" d="M0,0.25 L0,0.75 C0,0.91 0.08,1 0.19,1 C0.30,1 0.38,0.91 0.38,0.75 L0.38,0.25 C0.38,0.09 0.30,0 0.19,0 C0.08,0 0,0.09 0,0.25 Z" vector-effect="non-scaling-stroke"/><path transform="translate(27.16,0) matrix(14.600,0,-5.256,14.600,5.256,-14.600)" d="M0.21,0.30 L0.21,0.72 M0,0.51 L0.42,0.51 M0,0.92 L0.42,0.92" vector-effect="non-scaling-stroke"/><path transform="translate(35.92,0) matrix(14.600,0,-5.256,14.600,5.256,-14.600)" d="M0,0 L0.18,0 C0.31,0 0.37,0.09 0.37,0.22 C0.37,0.38 0.27,0.5 0.15,0.5 C0.33,0.5 0.44,0.6 0.44,0.74 C0.44,0.9 0.33,1 0.16,1 L0,1" vector-effect="non-scaling-stroke"/></g>
<rect x="191.90" y="512.70" width="345.30" height="199.10" stroke="#000" stroke-width="1.6" fill="none"/>
<line x1="191.70" y1="512.70" x2="191.70" y2="711.80" stroke="#000" stroke-width="2.2"/>
<line x1="537.30" y1="512.70" x2="537.30" y2="711.80" stroke="#000" stroke-width="2.2"/>
<line x1="191.90" y1="521.70" x2="537.20" y2="521.70" stroke="#000" stroke-width="1.3"/>
<line x1="191.90" y1="702.80" x2="537.20" y2="702.80" stroke="#000" stroke-width="1.3"/>
<path d="M271.40,512.60 V499.60 H275.50 V507.80 A2.95,2.95 0 0 0 281.45,507.80 V499.60 H285.55 V512.60" stroke="#000" stroke-width="0.95" fill="none" />
<path d="M271.40,711.80 V724.90 H275.50 V716.70 A2.95,2.95 0 0 1 281.45,716.70 V724.90 H285.55 V711.80" stroke="#000" stroke-width="0.95" fill="none" />
<path d="M483.50,512.60 V499.60 H487.60 V507.80 A2.95,2.95 0 0 0 493.55,507.80 V499.60 H497.65 V512.60" stroke="#000" stroke-width="0.95" fill="none" />
<path d="M483.50,711.80 V724.90 H487.60 V716.70 A2.95,2.95 0 0 1 493.55,716.70 V724.90 H497.65 V711.80" stroke="#000" stroke-width="0.95" fill="none" />
<line x1="303.50" y1="521.70" x2="303.50" y2="702.80" stroke="#000" stroke-width="1.1"/>
<line x1="314.60" y1="521.70" x2="314.60" y2="702.80" stroke="#000" stroke-width="1.4"/>
<line x1="468.50" y1="521.70" x2="468.50" y2="702.80" stroke="#000" stroke-width="1.1"/>
<line x1="479.60" y1="521.70" x2="479.60" y2="702.80" stroke="#000" stroke-width="1.4"/>
<path d="M194.40,521.80 V523.10 Q194.40,524.60 195.80,524.60 H199.00 Q200.40,524.60 200.40,523.10 V521.80" stroke="#000" stroke-width="1.0" fill="none" />
<path d="M306.30,521.80 V523.10 Q306.30,524.60 307.70,524.60 H310.90 Q312.30,524.60 312.30,523.10 V521.80" stroke="#000" stroke-width="1.0" fill="none" />
<path d="M470.90,521.80 V523.10 Q470.90,524.60 472.30,524.60 H475.50 Q476.90,524.60 476.90,523.10 V521.80" stroke="#000" stroke-width="1.0" fill="none" />
<path d="M528.40,521.80 V523.10 Q528.40,524.60 529.80,524.60 H533.00 Q534.40,524.60 534.40,523.10 V521.80" stroke="#000" stroke-width="1.0" fill="none" />
<rect x="202.20" y="521.80" width="9.20" height="3.20" stroke="#000" stroke-width="1.0" fill="#fff"/>
<rect x="204.50" y="525.00" width="4.60" height="1.80" stroke="#000" stroke-width="0" fill="#000"/>
<rect x="205.10" y="526.80" width="3.4" height="6.80" rx="0.8" fill="#ddd" stroke="#000" stroke-width="1.1"/>
<rect x="282.40" y="521.80" width="9.20" height="3.20" stroke="#000" stroke-width="1.0" fill="#fff"/>
<rect x="284.70" y="525.00" width="4.60" height="1.80" stroke="#000" stroke-width="0" fill="#000"/>
<rect x="285.30" y="526.80" width="3.4" height="6.80" rx="0.8" fill="#aaa" stroke="#000" stroke-width="1.1"/>
<rect x="483.10" y="521.80" width="9.20" height="3.20" stroke="#000" stroke-width="1.0" fill="#fff"/>
<rect x="485.40" y="525.00" width="4.60" height="1.80" stroke="#000" stroke-width="0" fill="#000"/>
<rect x="486.00" y="526.80" width="3.4" height="6.80" rx="0.8" fill="#aaa" stroke="#000" stroke-width="1.1"/>
<rect x="517.40" y="521.80" width="9.20" height="3.20" stroke="#000" stroke-width="1.0" fill="#fff"/>
<rect x="519.70" y="525.00" width="4.60" height="1.80" stroke="#000" stroke-width="0" fill="#000"/>
<rect x="520.30" y="526.80" width="3.4" height="6.80" rx="0.8" fill="#aaa" stroke="#000" stroke-width="1.1"/>
<circle cx="269.70" cy="529.00" r="4.60" stroke="#000" stroke-width="1.1" fill="none"/>
<circle cx="269.70" cy="529.00" r="2.20" stroke="#000" stroke-width="0.6" fill="#000"/>
<circle cx="507.80" cy="529.00" r="4.60" stroke="#000" stroke-width="1.1" fill="none"/>
<circle cx="507.80" cy="529.00" r="2.20" stroke="#000" stroke-width="0.6" fill="#000"/>
<path d="M274.90,521.80 V528.00 H279.50 Q281.50,528.00 281.50,526.00 V521.80" stroke="#000" stroke-width="0.9" fill="none" />
<path d="M494.60,521.80 V528.20 H490.90 Q488.90,528.20 488.90,526.20 V521.80" stroke="#000" stroke-width="0.9" fill="none" />
<circle cx="197.40" cy="543.30" r="2.80" stroke="#000" stroke-width="1.15" fill="none"/>
<circle cx="309.30" cy="543.30" r="2.80" stroke="#000" stroke-width="1.15" fill="none"/>
<circle cx="473.90" cy="543.30" r="2.80" stroke="#000" stroke-width="1.15" fill="none"/>
<circle cx="531.10" cy="543.30" r="2.80" stroke="#000" stroke-width="1.15" fill="none"/>
<path d="M194.40,702.70 V701.40 Q194.40,699.90 195.80,699.90 H199.00 Q200.40,699.90 200.40,701.40 V702.70" stroke="#000" stroke-width="1.0" fill="none" />
<path d="M306.30,702.70 V701.40 Q306.30,699.90 307.70,699.90 H310.90 Q312.30,699.90 312.30,701.40 V702.70" stroke="#000" stroke-width="1.0" fill="none" />
<path d="M470.90,702.70 V701.40 Q470.90,699.90 472.30,699.90 H475.50 Q476.90,699.90 476.90,701.40 V702.70" stroke="#000" stroke-width="1.0" fill="none" />
<path d="M528.40,702.70 V701.40 Q528.40,699.90 529.80,699.90 H533.00 Q534.40,699.90 534.40,701.40 V702.70" stroke="#000" stroke-width="1.0" fill="none" />
<rect x="202.20" y="699.50" width="9.20" height="3.20" stroke="#000" stroke-width="1.0" fill="#fff"/>
<rect x="204.50" y="697.70" width="4.60" height="1.80" stroke="#000" stroke-width="0" fill="#000"/>
<rect x="205.10" y="690.90" width="3.4" height="6.80" rx="0.8" fill="#ddd" stroke="#000" stroke-width="1.1"/>
<rect x="282.40" y="699.50" width="9.20" height="3.20" stroke="#000" stroke-width="1.0" fill="#fff"/>
<rect x="284.70" y="697.70" width="4.60" height="1.80" stroke="#000" stroke-width="0" fill="#000"/>
<rect x="285.30" y="690.90" width="3.4" height="6.80" rx="0.8" fill="#aaa" stroke="#000" stroke-width="1.1"/>
<rect x="483.10" y="699.50" width="9.20" height="3.20" stroke="#000" stroke-width="1.0" fill="#fff"/>
<rect x="485.40" y="697.70" width="4.60" height="1.80" stroke="#000" stroke-width="0" fill="#000"/>
<rect x="486.00" y="690.90" width="3.4" height="6.80" rx="0.8" fill="#aaa" stroke="#000" stroke-width="1.1"/>
<rect x="517.40" y="699.50" width="9.20" height="3.20" stroke="#000" stroke-width="1.0" fill="#fff"/>
<rect x="519.70" y="697.70" width="4.60" height="1.80" stroke="#000" stroke-width="0" fill="#000"/>
<rect x="520.30" y="690.90" width="3.4" height="6.80" rx="0.8" fill="#aaa" stroke="#000" stroke-width="1.1"/>
<circle cx="269.70" cy="695.50" r="4.60" stroke="#000" stroke-width="1.1" fill="none"/>
<circle cx="269.70" cy="695.50" r="2.20" stroke="#000" stroke-width="0.6" fill="#000"/>
<circle cx="507.80" cy="695.50" r="4.60" stroke="#000" stroke-width="1.1" fill="none"/>
<circle cx="507.80" cy="695.50" r="2.20" stroke="#000" stroke-width="0.6" fill="#000"/>
<path d="M274.90,702.70 V696.50 H279.50 Q281.50,696.50 281.50,698.50 V702.70" stroke="#000" stroke-width="0.9" fill="none" />
<path d="M494.60,702.70 V696.30 H490.90 Q488.90,696.30 488.90,698.30 V702.70" stroke="#000" stroke-width="0.9" fill="none" />
<circle cx="197.40" cy="681.20" r="2.80" stroke="#000" stroke-width="1.15" fill="none"/>
<circle cx="309.30" cy="681.20" r="2.80" stroke="#000" stroke-width="1.15" fill="none"/>
<circle cx="473.90" cy="681.20" r="2.80" stroke="#000" stroke-width="1.15" fill="none"/>
<circle cx="531.10" cy="681.20" r="2.80" stroke="#000" stroke-width="1.15" fill="none"/>
<circle cx="197.40" cy="612.20" r="2.80" stroke="#000" stroke-width="1.15" fill="none"/>
<circle cx="531.10" cy="612.20" r="2.80" stroke="#000" stroke-width="1.15" fill="none"/>
<circle cx="507.80" cy="549.10" r="1.90" stroke="#000" stroke-width="1.0" fill="none"/>
<line x1="284.80" y1="578.50" x2="474.00" y2="578.50" stroke="#000" stroke-width="1.2"/>
<line x1="284.80" y1="588.50" x2="474.00" y2="588.50" stroke="#000" stroke-width="1.2"/>
<line x1="288.00" y1="607.50" x2="474.00" y2="607.50" stroke="#000" stroke-width="1.2"/>
<line x1="288.00" y1="617.50" x2="474.00" y2="617.50" stroke="#000" stroke-width="1.2"/>
<rect x="290.30" y="608.50" width="2.00" height="7.90" stroke="#000" stroke-width="0" fill="#8a8a8a"/>
<rect x="295.20" y="608.50" width="2.00" height="7.90" stroke="#000" stroke-width="0" fill="#8a8a8a"/>
<line x1="288.00" y1="636.50" x2="474.00" y2="636.50" stroke="#000" stroke-width="1.2"/>
<line x1="288.00" y1="646.50" x2="474.00" y2="646.50" stroke="#000" stroke-width="1.2"/>
<rect x="290.30" y="636.80" width="2.00" height="8.60" stroke="#000" stroke-width="0" fill="#8a8a8a"/>
<rect x="295.20" y="636.80" width="2.00" height="8.60" stroke="#000" stroke-width="0" fill="#8a8a8a"/>
<rect x="303.05" y="579.20" width="2.20" height="8.50" stroke="#000" stroke-width="0" fill="#8a8a8a"/>
<rect x="306.40" y="579.20" width="2.20" height="8.50" stroke="#000" stroke-width="0" fill="#8a8a8a"/>
<line x1="309.50" y1="578.60" x2="309.50" y2="588.30" stroke="#111" stroke-width="0.9"/>
<rect x="313.98" y="579.20" width="2.20" height="8.50" stroke="#000" stroke-width="0" fill="#8a8a8a"/>
<rect x="318.37" y="579.20" width="2.20" height="8.50" stroke="#000" stroke-width="0" fill="#8a8a8a"/>
<rect x="325.95" y="579.20" width="2.20" height="8.50" stroke="#000" stroke-width="0" fill="#8a8a8a"/>
<line x1="326.50" y1="578.60" x2="326.50" y2="588.30" stroke="#111" stroke-width="0.9"/>
<rect x="330.33" y="579.20" width="2.20" height="8.50" stroke="#000" stroke-width="0" fill="#8a8a8a"/>
<rect x="337.92" y="579.20" width="2.20" height="8.50" stroke="#000" stroke-width="0" fill="#8a8a8a"/>
<rect x="342.30" y="579.20" width="2.20" height="8.50" stroke="#000" stroke-width="0" fill="#8a8a8a"/>
<line x1="343.50" y1="578.60" x2="343.50" y2="588.30" stroke="#111" stroke-width="0.9"/>
<rect x="346.68" y="579.20" width="2.20" height="8.50" stroke="#000" stroke-width="0" fill="#8a8a8a"/>
<rect x="354.26" y="579.20" width="2.20" height="8.50" stroke="#000" stroke-width="0" fill="#8a8a8a"/>
<rect x="358.65" y="579.20" width="2.20" height="8.50" stroke="#000" stroke-width="0" fill="#8a8a8a"/>
<line x1="360.50" y1="578.60" x2="360.50" y2="588.30" stroke="#111" stroke-width="0.9"/>
<rect x="366.23" y="579.20" width="2.20" height="8.50" stroke="#000" stroke-width="0" fill="#8a8a8a"/>
<rect x="370.61" y="579.20" width="2.20" height="8.50" stroke="#000" stroke-width="0" fill="#8a8a8a"/>
<rect x="378.20" y="579.20" width="2.20" height="8.50" stroke="#000" stroke-width="0" fill="#8a8a8a"/>
<line x1="378.50" y1="578.60" x2="378.50" y2="588.30" stroke="#111" stroke-width="0.9"/>
<rect x="382.58" y="579.20" width="2.20" height="8.50" stroke="#000" stroke-width="0" fill="#8a8a8a"/>
<rect x="386.96" y="579.20" width="2.20" height="8.50" stroke="#000" stroke-width="0" fill="#8a8a8a"/>
<rect x="394.55" y="579.20" width="2.20" height="8.50" stroke="#000" stroke-width="0" fill="#8a8a8a"/>
<line x1="395.50" y1="578.60" x2="395.50" y2="588.30" stroke="#111" stroke-width="0.9"/>
<rect x="398.93" y="579.20" width="2.20" height="8.50" stroke="#000" stroke-width="0" fill="#8a8a8a"/>
<rect x="406.51" y="579.20" width="2.20" height="8.50" stroke="#000" stroke-width="0" fill="#8a8a8a"/>
<rect x="410.89" y="579.20" width="2.20" height="8.50" stroke="#000" stroke-width="0" fill="#8a8a8a"/>
<line x1="412.50" y1="578.60" x2="412.50" y2="588.30" stroke="#111" stroke-width="0.9"/>
<rect x="418.48" y="579.20" width="2.20" height="8.50" stroke="#000" stroke-width="0" fill="#8a8a8a"/>
<rect x="422.86" y="579.20" width="2.20" height="8.50" stroke="#000" stroke-width="0" fill="#8a8a8a"/>
<rect x="427.24" y="579.20" width="2.20" height="8.50" stroke="#000" stroke-width="0" fill="#8a8a8a"/>
<line x1="429.50" y1="578.60" x2="429.50" y2="588.30" stroke="#111" stroke-width="0.9"/>
<rect x="434.83" y="579.20" width="2.20" height="8.50" stroke="#000" stroke-width="0" fill="#8a8a8a"/>
<rect x="439.21" y="579.20" width="2.20" height="8.50" stroke="#000" stroke-width="0" fill="#8a8a8a"/>
<rect x="446.79" y="579.20" width="2.20" height="8.50" stroke="#000" stroke-width="0" fill="#8a8a8a"/>
<line x1="446.50" y1="578.60" x2="446.50" y2="588.30" stroke="#111" stroke-width="0.9"/>
<rect x="451.18" y="579.20" width="2.20" height="8.50" stroke="#000" stroke-width="0" fill="#8a8a8a"/>
<rect x="455.56" y="579.20" width="2.20" height="8.50" stroke="#000" stroke-width="0" fill="#8a8a8a"/>
<rect x="463.14" y="579.20" width="2.20" height="8.50" stroke="#000" stroke-width="0" fill="#8a8a8a"/>
<line x1="464.50" y1="578.60" x2="464.50" y2="588.30" stroke="#111" stroke-width="0.9"/>
<rect x="467.52" y="579.20" width="2.20" height="8.50" stroke="#000" stroke-width="0" fill="#8a8a8a"/>
<rect x="303.05" y="608.50" width="2.20" height="7.90" stroke="#000" stroke-width="0" fill="#8a8a8a"/>
<rect x="306.40" y="608.50" width="2.20" height="7.90" stroke="#000" stroke-width="0" fill="#8a8a8a"/>
<line x1="309.50" y1="607.90" x2="309.50" y2="617.00" stroke="#111" stroke-width="0.9"/>
<rect x="313.98" y="608.50" width="2.20" height="7.90" stroke="#000" stroke-width="0" fill="#8a8a8a"/>
<rect x="318.37" y="608.50" width="2.20" height="7.90" stroke="#000" stroke-width="0" fill="#8a8a8a"/>
<rect x="325.95" y="608.50" width="2.20" height="7.90" stroke="#000" stroke-width="0" fill="#8a8a8a"/>
<line x1="326.50" y1="607.90" x2="326.50" y2="617.00" stroke="#111" stroke-width="0.9"/>
<rect x="330.33" y="608.50" width="2.20" height="7.90" stroke="#000" stroke-width="0" fill="#8a8a8a"/>
<rect x="337.92" y="608.50" width="2.20" height="7.90" stroke="#000" stroke-width="0" fill="#8a8a8a"/>
<rect x="342.30" y="608.50" width="2.20" height="7.90" stroke="#000" stroke-width="0" fill="#8a8a8a"/>
<line x1="343.50" y1="607.90" x2="343.50" y2="617.00" stroke="#111" stroke-width="0.9"/>
<rect x="346.68" y="608.50" width="2.20" height="7.90" stroke="#000" stroke-width="0" fill="#8a8a8a"/>
<rect x="354.26" y="608.50" width="2.20" height="7.90" stroke="#000" stroke-width="0" fill="#8a8a8a"/>
<rect x="358.65" y="608.50" width="2.20" height="7.90" stroke="#000" stroke-width="0" fill="#8a8a8a"/>
<line x1="360.50" y1="607.90" x2="360.50" y2="617.00" stroke="#111" stroke-width="0.9"/>
<rect x="366.23" y="608.50" width="2.20" height="7.90" stroke="#000" stroke-width="0" fill="#8a8a8a"/>
<rect x="370.61" y="608.50" width="2.20" height="7.90" stroke="#000" stroke-width="0" fill="#8a8a8a"/>
<rect x="378.20" y="608.50" width="2.20" height="7.90" stroke="#000" stroke-width="0" fill="#8a8a8a"/>
<line x1="378.50" y1="607.90" x2="378.50" y2="617.00" stroke="#111" stroke-width="0.9"/>
<rect x="382.58" y="608.50" width="2.20" height="7.90" stroke="#000" stroke-width="0" fill="#8a8a8a"/>
<rect x="386.96" y="608.50" width="2.20" height="7.90" stroke="#000" stroke-width="0" fill="#8a8a8a"/>
<rect x="394.55" y="608.50" width="2.20" height="7.90" stroke="#000" stroke-width="0" fill="#8a8a8a"/>
<line x1="395.50" y1="607.90" x2="395.50" y2="617.00" stroke="#111" stroke-width="0.9"/>
<rect x="398.93" y="608.50" width="2.20" height="7.90" stroke="#000" stroke-width="0" fill="#8a8a8a"/>
<rect x="406.51" y="608.50" width="2.20" height="7.90" stroke="#000" stroke-width="0" fill="#8a8a8a"/>
<rect x="410.89" y="608.50" width="2.20" height="7.90" stroke="#000" stroke-width="0" fill="#8a8a8a"/>
<line x1="412.50" y1="607.90" x2="412.50" y2="617.00" stroke="#111" stroke-width="0.9"/>
<rect x="418.48" y="608.50" width="2.20" height="7.90" stroke="#000" stroke-width="0" fill="#8a8a8a"/>
<rect x="422.86" y="608.50" width="2.20" height="7.90" stroke="#000" stroke-width="0" fill="#8a8a8a"/>
<rect x="427.24" y="608.50" width="2.20" height="7.90" stroke="#000" stroke-width="0" fill="#8a8a8a"/>
<line x1="429.50" y1="607.90" x2="429.50" y2="617.00" stroke="#111" stroke-width="0.9"/>
<rect x="434.83" y="608.50" width="2.20" height="7.90" stroke="#000" stroke-width="0" fill="#8a8a8a"/>
<rect x="439.21" y="608.50" width="2.20" height="7.90" stroke="#000" stroke-width="0" fill="#8a8a8a"/>
<rect x="446.79" y="608.50" width="2.20" height="7.90" stroke="#000" stroke-width="0" fill="#8a8a8a"/>
<line x1="446.50" y1="607.90" x2="446.50" y2="617.00" stroke="#111" stroke-width="0.9"/>
<rect x="451.18" y="608.50" width="2.20" height="7.90" stroke="#000" stroke-width="0" fill="#8a8a8a"/>
<rect x="455.56" y="608.50" width="2.20" height="7.90" stroke="#000" stroke-width="0" fill="#8a8a8a"/>
<rect x="463.14" y="608.50" width="2.20" height="7.90" stroke="#000" stroke-width="0" fill="#8a8a8a"/>
<line x1="464.50" y1="607.90" x2="464.50" y2="617.00" stroke="#111" stroke-width="0.9"/>
<rect x="467.52" y="608.50" width="2.20" height="7.90" stroke="#000" stroke-width="0" fill="#8a8a8a"/>
<rect x="303.05" y="636.80" width="2.20" height="8.60" stroke="#000" stroke-width="0" fill="#8a8a8a"/>
<rect x="306.40" y="636.80" width="2.20" height="8.60" stroke="#000" stroke-width="0" fill="#8a8a8a"/>
<line x1="309.50" y1="636.20" x2="309.50" y2="646.00" stroke="#111" stroke-width="0.9"/>
<rect x="313.98" y="636.80" width="2.20" height="8.60" stroke="#000" stroke-width="0" fill="#8a8a8a"/>
<rect x="318.37" y="636.80" width="2.20" height="8.60" stroke="#000" stroke-width="0" fill="#8a8a8a"/>
<rect x="325.95" y="636.80" width="2.20" height="8.60" stroke="#000" stroke-width="0" fill="#8a8a8a"/>
<line x1="326.50" y1="636.20" x2="326.50" y2="646.00" stroke="#111" stroke-width="0.9"/>
<rect x="330.33" y="636.80" width="2.20" height="8.60" stroke="#000" stroke-width="0" fill="#8a8a8a"/>
<rect x="337.92" y="636.80" width="2.20" height="8.60" stroke="#000" stroke-width="0" fill="#8a8a8a"/>
<rect x="342.30" y="636.80" width="2.20" height="8.60" stroke="#000" stroke-width="0" fill="#8a8a8a"/>
<line x1="343.50" y1="636.20" x2="343.50" y2="646.00" stroke="#111" stroke-width="0.9"/>
<rect x="346.68" y="636.80" width="2.20" height="8.60" stroke="#000" stroke-width="0" fill="#8a8a8a"/>
<rect x="354.26" y="636.80" width="2.20" height="8.60" stroke="#000" stroke-width="0" fill="#8a8a8a"/>
<rect x="358.65" y="636.80" width="2.20" height="8.60" stroke="#000" stroke-width="0" fill="#8a8a8a"/>
<line x1="360.50" y1="636.20" x2="360.50" y2="646.00" stroke="#111" stroke-width="0.9"/>
<rect x="366.23" y="636.80" width="2.20" height="8.60" stroke="#000" stroke-width="0" fill="#8a8a8a"/>
<rect x="370.61" y="636.80" width="2.20" height="8.60" stroke="#000" stroke-width="0" fill="#8a8a8a"/>
<rect x="378.20" y="636.80" width="2.20" height="8.60" stroke="#000" stroke-width="0" fill="#8a8a8a"/>
<line x1="378.50" y1="636.20" x2="378.50" y2="646.00" stroke="#111" stroke-width="0.9"/>
<rect x="382.58" y="636.80" width="2.20" height="8.60" stroke="#000" stroke-width="0" fill="#8a8a8a"/>
<rect x="386.96" y="636.80" width="2.20" height="8.60" stroke="#000" stroke-width="0" fill="#8a8a8a"/>
<rect x="394.55" y="636.80" width="2.20" height="8.60" stroke="#000" stroke-width="0" fill="#8a8a8a"/>
<line x1="395.50" y1="636.20" x2="395.50" y2="646.00" stroke="#111" stroke-width="0.9"/>
<rect x="398.93" y="636.80" width="2.20" height="8.60" stroke="#000" stroke-width="0" fill="#8a8a8a"/>
<rect x="406.51" y="636.80" width="2.20" height="8.60" stroke="#000" stroke-width="0" fill="#8a8a8a"/>
<rect x="410.89" y="636.80" width="2.20" height="8.60" stroke="#000" stroke-width="0" fill="#8a8a8a"/>
<line x1="412.50" y1="636.20" x2="412.50" y2="646.00" stroke="#111" stroke-width="0.9"/>
<rect x="418.48" y="636.80" width="2.20" height="8.60" stroke="#000" stroke-width="0" fill="#8a8a8a"/>
<rect x="422.86" y="636.80" width="2.20" height="8.60" stroke="#000" stroke-width="0" fill="#8a8a8a"/>
<rect x="427.24" y="636.80" width="2.20" height="8.60" stroke="#000" stroke-width="0" fill="#8a8a8a"/>
<line x1="429.50" y1="636.20" x2="429.50" y2="646.00" stroke="#111" stroke-width="0.9"/>
<rect x="434.83" y="636.80" width="2.20" height="8.60" stroke="#000" stroke-width="0" fill="#8a8a8a"/>
<rect x="439.21" y="636.80" width="2.20" height="8.60" stroke="#000" stroke-width="0" fill="#8a8a8a"/>
<rect x="446.79" y="636.80" width="2.20" height="8.60" stroke="#000" stroke-width="0" fill="#8a8a8a"/>
<line x1="446.50" y1="636.20" x2="446.50" y2="646.00" stroke="#111" stroke-width="0.9"/>
<rect x="451.18" y="636.80" width="2.20" height="8.60" stroke="#000" stroke-width="0" fill="#8a8a8a"/>
<rect x="455.56" y="636.80" width="2.20" height="8.60" stroke="#000" stroke-width="0" fill="#8a8a8a"/>
<rect x="463.14" y="636.80" width="2.20" height="8.60" stroke="#000" stroke-width="0" fill="#8a8a8a"/>
<line x1="464.50" y1="636.20" x2="464.50" y2="646.00" stroke="#111" stroke-width="0.9"/>
<rect x="467.52" y="636.80" width="2.20" height="8.60" stroke="#000" stroke-width="0" fill="#8a8a8a"/>
<line x1="300.80" y1="568.50" x2="300.80" y2="656.00" stroke="#000" stroke-width="1.6"/>
<line x1="305.50" y1="568.50" x2="305.50" y2="656.00" stroke="#000" stroke-width="1.15"/>
<line x1="311.50" y1="568.50" x2="311.50" y2="656.00" stroke="#000" stroke-width="1.15"/>
<line x1="316.50" y1="568.50" x2="316.50" y2="656.00" stroke="#000" stroke-width="1.15"/>
<line x1="322.50" y1="568.50" x2="322.50" y2="656.00" stroke="#000" stroke-width="1.15"/>
<line x1="328.50" y1="568.50" x2="328.50" y2="656.00" stroke="#000" stroke-width="1.15"/>
<line x1="334.50" y1="568.50" x2="334.50" y2="656.00" stroke="#000" stroke-width="1.15"/>
<line x1="339.50" y1="568.50" x2="339.50" y2="656.00" stroke="#000" stroke-width="1.15"/>
<line x1="345.50" y1="568.50" x2="345.50" y2="656.00" stroke="#000" stroke-width="1.15"/>
<line x1="351.50" y1="568.50" x2="351.50" y2="656.00" stroke="#000" stroke-width="1.15"/>
<line x1="357.50" y1="568.50" x2="357.50" y2="656.00" stroke="#000" stroke-width="1.15"/>
<line x1="362.50" y1="568.50" x2="362.50" y2="656.00" stroke="#000" stroke-width="1.15"/>
<line x1="368.50" y1="568.50" x2="368.50" y2="656.00" stroke="#000" stroke-width="1.15"/>
<line x1="374.50" y1="568.50" x2="374.50" y2="656.00" stroke="#000" stroke-width="1.15"/>
<line x1="380.50" y1="568.50" x2="380.50" y2="656.00" stroke="#000" stroke-width="1.15"/>
<line x1="385.50" y1="568.50" x2="385.50" y2="656.00" stroke="#000" stroke-width="1.15"/>
<line x1="391.50" y1="568.50" x2="391.50" y2="656.00" stroke="#000" stroke-width="1.15"/>
<line x1="397.50" y1="568.50" x2="397.50" y2="656.00" stroke="#000" stroke-width="1.15"/>
<line x1="402.50" y1="568.50" x2="402.50" y2="656.00" stroke="#000" stroke-width="1.15"/>
<line x1="408.50" y1="568.50" x2="408.50" y2="656.00" stroke="#000" stroke-width="1.15"/>
<line x1="414.50" y1="568.50" x2="414.50" y2="656.00" stroke="#000" stroke-width="1.15"/>
<line x1="420.50" y1="568.50" x2="420.50" y2="656.00" stroke="#000" stroke-width="1.15"/>
<line x1="425.50" y1="568.50" x2="425.50" y2="656.00" stroke="#000" stroke-width="1.15"/>
<line x1="431.50" y1="568.50" x2="431.50" y2="656.00" stroke="#000" stroke-width="1.15"/>
<line x1="437.50" y1="568.50" x2="437.50" y2="656.00" stroke="#000" stroke-width="1.15"/>
<line x1="443.50" y1="568.50" x2="443.50" y2="656.00" stroke="#000" stroke-width="1.15"/>
<line x1="448.50" y1="568.50" x2="448.50" y2="656.00" stroke="#000" stroke-width="1.15"/>
<line x1="454.50" y1="568.50" x2="454.50" y2="656.00" stroke="#000" stroke-width="1.15"/>
<line x1="460.50" y1="568.50" x2="460.50" y2="656.00" stroke="#000" stroke-width="1.15"/>
<line x1="466.50" y1="568.50" x2="466.50" y2="656.00" stroke="#000" stroke-width="1.15"/>
<line x1="471.50" y1="568.50" x2="471.50" y2="656.00" stroke="#000" stroke-width="1.15"/>
<line x1="472.80" y1="568.50" x2="472.80" y2="656.00" stroke="#000" stroke-width="1.6"/>
<line x1="467.50" y1="568.50" x2="467.50" y2="656.00" stroke="#000" stroke-width="0.8"/>
<rect x="284.70" y="578.50" width="16.00" height="9.50" stroke="#555" stroke-width="1.0" fill="#fff"/>
<rect x="291.00" y="578.50" width="4.60" height="9.50" stroke="#000" stroke-width="1.1" fill="#fff"/>
<rect x="273.50" y="576.80" width="11.20" height="12.80" stroke="#000" stroke-width="1.1" fill="#fff"/>
<line x1="273.50" y1="576.50" x2="284.70" y2="576.50" stroke="#777" stroke-width="1.1"/>
<rect x="270.70" y="576.10" width="2.80" height="14.70" stroke="#000" stroke-width="1.1" fill="#fff"/>
<circle cx="276.70" cy="583.40" r="4.10" stroke="#000" stroke-width="1.1" fill="none"/>
<path d="M266.4,574.5 H269.0 Q270.5,578.2 269.6,580.2 Q270.5,583.4 269.6,586.6 Q270.5,588.7 269.0,592.2 H266.4 Z" stroke="#000" stroke-width="1.2" fill="#fff" />
<line x1="264.10" y1="583.50" x2="290.90" y2="583.50" stroke="#000" stroke-width="1.0"/>
<path d="M266.7,621.6 L268.8,621.6 C274,621.6 277,607.9 288,607.9 M266.7,631.8 L268.8,631.8 C274,631.8 277,646.0 288,646.0" stroke="#000" stroke-width="1.0" fill="none" />
<path d="M300.8,617.0 L288.5,617.0 C283.0,617.0 280.4,621.2 280.4,626.7 C280.4,632.0 283.0,636.2 288.5,636.2 L300.8,636.2" stroke="#000" stroke-width="1.0" fill="none" />
<rect x="255.70" y="620.20" width="11.00" height="12.70" stroke="#000" stroke-width="1.1" fill="#fff"/>
<rect x="251.60" y="619.50" width="4.10" height="14.00" stroke="#000" stroke-width="1.1" fill="#fff"/>
<path d="M247.5,617.5 H251.0 Q252.2,621.2 251.2,623.2 Q252.2,626.7 251.2,630.2 Q252.2,632.2 251.0,635.0 H247.5 Z" stroke="#000" stroke-width="1.2" fill="#fff" />
<path d="M254.2,632.70 A4.2,4.2 0 0 1 262.6,632.70" fill="#fff" stroke="#000" stroke-width="1.1"/>
<rect x="254.60" y="633.00" width="7.40" height="4.80" stroke="#000" stroke-width="1.1" fill="#fff"/>
<line x1="258.50" y1="633.00" x2="258.50" y2="637.80" stroke="#000" stroke-width="0.9"/>
<rect x="254.4" y="637.80" width="7.8" height="5.4" rx="1.5" fill="#222" stroke="#000" stroke-width="1"/>
<line x1="255.50" y1="640.50" x2="261.20" y2="640.50" stroke="#bbb" stroke-width="0.8"/>
<line x1="246.00" y1="626.50" x2="272.00" y2="626.50" stroke="#000" stroke-width="1.0"/>
<line x1="474.00" y1="578.50" x2="484.30" y2="578.50" stroke="#000" stroke-width="1.0"/>
<line x1="474.00" y1="588.50" x2="484.30" y2="588.50" stroke="#000" stroke-width="1.0"/>
<rect x="481.00" y="579.20" width="1.40" height="8.50" stroke="#000" stroke-width="0" fill="#9a9a9a"/>
<line x1="474.00" y1="607.50" x2="484.30" y2="607.50" stroke="#000" stroke-width="1.0"/>
<line x1="474.00" y1="617.50" x2="484.30" y2="617.50" stroke="#000" stroke-width="1.0"/>
<rect x="481.00" y="608.50" width="1.40" height="7.90" stroke="#000" stroke-width="0" fill="#9a9a9a"/>
<line x1="474.00" y1="636.50" x2="484.30" y2="636.50" stroke="#000" stroke-width="1.0"/>
<line x1="474.00" y1="646.50" x2="484.30" y2="646.50" stroke="#000" stroke-width="1.0"/>
<rect x="481.00" y="636.80" width="1.40" height="8.60" stroke="#000" stroke-width="0" fill="#9a9a9a"/>
<g transform="matrix(-1,0,0,1,775.60,0)">
<rect x="291.30" y="578.50" width="4.80" height="9.80" stroke="#000" stroke-width="1.1" fill="#fff"/>
<rect x="285.20" y="580.40" width="6.10" height="6.10" stroke="#000" stroke-width="1.0" fill="#fff"/>
<rect x="271.90" y="576.80" width="13.30" height="12.80" stroke="#000" stroke-width="1.1" fill="#fff"/>
<rect x="269.60" y="576.10" width="2.30" height="14.70" stroke="#000" stroke-width="1.1" fill="#fff"/>
<circle cx="277.30" cy="583.40" r="4.10" stroke="#000" stroke-width="1.1" fill="none"/>
<path d="M265.9,574.5 H268.5 Q270.0,578.2 269.1,580.2 Q270.0,583.4 269.1,586.6 Q270.0,588.7 268.5,592.2 H265.9 Z" stroke="#000" stroke-width="1.2" fill="#fff" />
<line x1="264.80" y1="583.50" x2="290.90" y2="583.50" stroke="#000" stroke-width="1.0"/>
<path d="M266.7,621.6 L268.8,621.6 C274,621.6 277,607.9 288,607.9 L301.60,607.9 M266.7,631.8 L268.8,631.8 C274,631.8 277,646.0 288,646.0 L301.60,646.0" stroke="#000" stroke-width="1.0" fill="none" />
<path d="M301.60,617.0 L288.5,617.0 C283.0,617.0 280.4,621.2 280.4,626.7 C280.4,632.0 283.0,636.2 288.5,636.2 L301.60,636.2" stroke="#000" stroke-width="1.0" fill="none" />
<rect x="255.70" y="620.20" width="11.00" height="12.70" stroke="#000" stroke-width="1.1" fill="#fff"/>
<rect x="251.60" y="619.50" width="4.10" height="14.00" stroke="#000" stroke-width="1.1" fill="#fff"/>
<circle cx="259.70" cy="626.70" r="4.10" stroke="#000" stroke-width="1.1" fill="none"/>
<path d="M247.5,617.5 H251.0 Q252.2,621.2 251.2,623.2 Q252.2,626.7 251.2,630.2 Q252.2,632.2 251.0,635.0 H247.5 Z" stroke="#000" stroke-width="1.2" fill="#fff" />
<line x1="246.00" y1="626.50" x2="272.00" y2="626.50" stroke="#000" stroke-width="1.0"/>
</g>
<line x1="266.50" y1="563.20" x2="266.50" y2="574.80" stroke="#000" stroke-width="1.0"/>
<line x1="191.90" y1="569.50" x2="266.30" y2="569.50" stroke="#333" stroke-width="1.0"/>
<path d="M207.10,567.60 L193.10,569.60 L207.10,571.60 Z" fill="#c8c8c8" stroke="none"/>
<path d="M207.10,567.60 L193.10,569.60 L207.10,571.60" fill="none" stroke="#000" stroke-width="0.85" stroke-linejoin="miter"/>
<line x1="193.10" y1="569.60" x2="198.70" y2="569.60" stroke="#000" stroke-width="1.0"/>
<path d="M252.10,571.60 L266.10,569.60 L252.10,567.60 Z" fill="#c8c8c8" stroke="none"/>
<path d="M252.10,571.60 L266.10,569.60 L252.10,567.60" fill="none" stroke="#000" stroke-width="0.85" stroke-linejoin="miter"/>
<line x1="266.10" y1="569.60" x2="260.50" y2="569.60" stroke="#000" stroke-width="1.0"/>
<rect x="197.60" y="542.00" width="64.40" height="21.70" fill="#fff"/>
<g transform="translate(198.95,561.70) scale(0.9621,1)" fill="none" stroke="#1c1c2c" stroke-width="1.2" stroke-linecap="round" stroke-linejoin="round"><path transform="translate(0.00,0) matrix(14.500,0,-5.220,14.500,5.220,-14.500)" d="M0.04,0.27 L0.26,0 L0.26,1" vector-effect="non-scaling-stroke"/><path transform="translate(6.67,0) matrix(14.500,0,-5.220,14.500,5.220,-14.500)" d="M0,0 L0.18,0 C0.31,0 0.37,0.09 0.37,0.22 C0.37,0.38 0.27,0.5 0.15,0.5 C0.33,0.5 0.44,0.6 0.44,0.74 C0.44,0.9 0.33,1 0.16,1 L0,1" vector-effect="non-scaling-stroke"/><path transform="translate(15.37,0) matrix(14.500,0,-5.220,14.500,5.220,-14.500)" d="M0,0.22 C0.03,0.07 0.11,0 0.22,0 C0.36,0 0.46,0.08 0.46,0.24 C0.46,0.42 0.25,0.66 0,1 L0.45,1" vector-effect="non-scaling-stroke"/><circle cx="23.58" cy="-0.75" r="0.85" fill="#1c1c2c" stroke="none" transform="scale(1.0394,1)"/><circle cx="26.51" cy="-0.75" r="0.85" fill="#1c1c2c" stroke="none" transform="scale(1.0394,1)"/><circle cx="29.44" cy="-0.75" r="0.85" fill="#1c1c2c" stroke="none" transform="scale(1.0394,1)"/><path transform="translate(33.21,0) matrix(14.500,0,-5.220,14.500,5.220,-14.500)" d="M0.04,0.27 L0.26,0 L0.26,1" vector-effect="non-scaling-stroke"/><path transform="translate(39.88,0) matrix(14.500,0,-5.220,14.500,5.220,-14.500)" d="M0.34,1 L0.34,0 L-0.06,0.72 L0.44,0.72" vector-effect="non-scaling-stroke"/><path transform="translate(48.58,0) matrix(14.500,0,-5.220,14.500,5.220,-14.500)" d="M0,0.22 C0.03,0.07 0.11,0 0.22,0 C0.36,0 0.46,0.08 0.46,0.24 C0.46,0.42 0.25,0.66 0,1 L0.45,1" vector-effect="non-scaling-stroke"/></g>
<line x1="509.50" y1="563.20" x2="509.50" y2="575.50" stroke="#000" stroke-width="1.0"/>
<line x1="488.10" y1="569.50" x2="610.20" y2="569.50" stroke="#333" stroke-width="1.0"/>
<path d="M495.00,571.50 L509.00,569.50 L495.00,567.50 Z" fill="#c8c8c8" stroke="none"/>
<path d="M495.00,571.50 L509.00,569.50 L495.00,567.50" fill="none" stroke="#000" stroke-width="0.85" stroke-linejoin="miter"/>
<line x1="509.00" y1="569.50" x2="503.40" y2="569.50" stroke="#000" stroke-width="1.0"/>
<path d="M551.60,567.50 L537.60,569.50 L551.60,571.50 Z" fill="#c8c8c8" stroke="none"/>
<path d="M551.60,567.50 L537.60,569.50 L551.60,571.50" fill="none" stroke="#000" stroke-width="0.85" stroke-linejoin="miter"/>
<line x1="537.60" y1="569.50" x2="543.20" y2="569.50" stroke="#000" stroke-width="1.0"/>
<g transform="translate(560.15,561.60) scale(0.9168,1)" fill="none" stroke="#1c1c2c" stroke-width="1.2" stroke-linecap="round" stroke-linejoin="round"><path transform="translate(0.00,0) matrix(14.000,0,-5.040,14.000,5.040,-14.000)" d="M0.44,0 L0.1,0 L0.05,0.5 C0.12,0.45 0.19,0.42 0.25,0.42 C0.37,0.42 0.44,0.52 0.44,0.7 C0.44,0.9 0.33,1 0.18,1 L0,1" vector-effect="non-scaling-stroke"/><path transform="translate(8.68,0) matrix(14.000,0,-5.040,14.000,5.040,-14.000)" d="M0,0 L0.18,0 C0.31,0 0.37,0.09 0.37,0.22 C0.37,0.38 0.27,0.5 0.15,0.5 C0.33,0.5 0.44,0.6 0.44,0.74 C0.44,0.9 0.33,1 0.16,1 L0,1" vector-effect="non-scaling-stroke"/><circle cx="16.04" cy="-0.75" r="0.85" fill="#1c1c2c" stroke="none" transform="scale(1.0908,1)"/><circle cx="18.74" cy="-0.75" r="0.85" fill="#1c1c2c" stroke="none" transform="scale(1.0908,1)"/><circle cx="21.43" cy="-0.75" r="0.85" fill="#1c1c2c" stroke="none" transform="scale(1.0908,1)"/><path transform="translate(25.90,0) matrix(14.000,0,-5.040,14.000,5.040,-14.000)" d="M0.34,1 L0.34,0 L-0.06,0.72 L0.44,0.72" vector-effect="non-scaling-stroke"/><path transform="translate(34.30,0) matrix(14.000,0,-5.040,14.000,5.040,-14.000)" d="M0,0 L0.18,0 C0.31,0 0.37,0.09 0.37,0.22 C0.37,0.38 0.27,0.5 0.15,0.5 C0.33,0.5 0.44,0.6 0.44,0.74 C0.44,0.9 0.33,1 0.16,1 L0,1" vector-effect="non-scaling-stroke"/></g>
<line x1="527.50" y1="635.60" x2="527.50" y2="771.90" stroke="#000" stroke-width="1.0"/>
<line x1="537.50" y1="711.80" x2="537.50" y2="771.90" stroke="#000" stroke-width="1.0"/>
<line x1="460.70" y1="767.50" x2="557.80" y2="767.50" stroke="#333" stroke-width="1.0"/>
<path d="M513.20,769.10 L527.20,767.10 L513.20,765.10 Z" fill="#c8c8c8" stroke="none"/>
<path d="M513.20,769.10 L527.20,767.10 L513.20,765.10" fill="none" stroke="#000" stroke-width="0.85" stroke-linejoin="miter"/>
<line x1="527.20" y1="767.10" x2="521.60" y2="767.10" stroke="#000" stroke-width="1.0"/>
<path d="M551.30,765.10 L537.30,767.10 L551.30,769.10 Z" fill="#c8c8c8" stroke="none"/>
<path d="M551.30,765.10 L537.30,767.10 L551.30,769.10" fill="none" stroke="#000" stroke-width="0.85" stroke-linejoin="miter"/>
<line x1="537.30" y1="767.10" x2="542.90" y2="767.10" stroke="#000" stroke-width="1.0"/>
<g transform="translate(469.26,759.80) scale(0.9330,1)" fill="none" stroke="#1c1c2c" stroke-width="1.2" stroke-linecap="round" stroke-linejoin="round"><path transform="translate(0.00,0) matrix(14.000,0,-5.040,14.000,5.040,-14.000)" d="M0,0.22 C0.03,0.07 0.11,0 0.22,0 C0.36,0 0.46,0.08 0.46,0.24 C0.46,0.42 0.25,0.66 0,1 L0.45,1" vector-effect="non-scaling-stroke"/><path transform="translate(8.40,0) matrix(14.000,0,-5.040,14.000,5.040,-14.000)" d="M0.04,0.27 L0.26,0 L0.26,1" vector-effect="non-scaling-stroke"/><circle cx="14.24" cy="-0.75" r="0.85" fill="#1c1c2c" stroke="none" transform="scale(1.0718,1)"/><circle cx="16.98" cy="-0.75" r="0.85" fill="#1c1c2c" stroke="none" transform="scale(1.0718,1)"/><circle cx="19.72" cy="-0.75" r="0.85" fill="#1c1c2c" stroke="none" transform="scale(1.0718,1)"/><path transform="translate(23.66,0) matrix(14.000,0,-5.040,14.000,5.040,-14.000)" d="M0.04,0.27 L0.26,0 L0.26,1" vector-effect="non-scaling-stroke"/><path transform="translate(30.10,0) matrix(14.000,0,-5.040,14.000,5.040,-14.000)" d="M0.04,0.27 L0.26,0 L0.26,1" vector-effect="non-scaling-stroke"/></g>
<line x1="191.50" y1="711.80" x2="191.50" y2="772.20" stroke="#000" stroke-width="1.0"/>
<line x1="247.50" y1="635.10" x2="247.50" y2="772.20" stroke="#000" stroke-width="1.0"/>
<line x1="191.90" y1="766.50" x2="332.30" y2="766.50" stroke="#333" stroke-width="1.0"/>
<path d="M206.70,764.80 L192.70,766.80 L206.70,768.80 Z" fill="#c8c8c8" stroke="none"/>
<path d="M206.70,764.80 L192.70,766.80 L206.70,768.80" fill="none" stroke="#000" stroke-width="0.85" stroke-linejoin="miter"/>
<line x1="192.70" y1="766.80" x2="198.30" y2="766.80" stroke="#000" stroke-width="1.0"/>
<path d="M233.70,768.80 L247.70,766.80 L233.70,764.80 Z" fill="#c8c8c8" stroke="none"/>
<path d="M233.70,768.80 L247.70,766.80 L233.70,764.80" fill="none" stroke="#000" stroke-width="0.85" stroke-linejoin="miter"/>
<line x1="247.70" y1="766.80" x2="242.10" y2="766.80" stroke="#000" stroke-width="1.0"/>
<g transform="translate(268.84,759.20) scale(0.9752,1)" fill="none" stroke="#1c1c2c" stroke-width="1.2" stroke-linecap="round" stroke-linejoin="round"><path transform="translate(0.00,0) matrix(14.000,0,-5.040,14.000,5.040,-14.000)" d="M0.04,0.27 L0.26,0 L0.26,1" vector-effect="non-scaling-stroke"/><path transform="translate(6.44,0) matrix(14.000,0,-5.040,14.000,5.040,-14.000)" d="M0,0.25 L0,0.75 C0,0.91 0.08,1 0.19,1 C0.30,1 0.38,0.91 0.38,0.75 L0.38,0.25 C0.38,0.09 0.30,0 0.19,0 C0.08,0 0,0.09 0,0.25 Z" vector-effect="non-scaling-stroke"/><path transform="translate(15.40,0) matrix(14.000,0,-5.040,14.000,5.040,-14.000)" d="M0,0.25 L0,0.75 C0,0.91 0.08,1 0.19,1 C0.30,1 0.38,0.91 0.38,0.75 L0.38,0.25 C0.38,0.09 0.30,0 0.19,0 C0.08,0 0,0.09 0,0.25 Z" vector-effect="non-scaling-stroke"/><circle cx="24.17" cy="-0.75" r="0.85" fill="#1c1c2c" stroke="none" transform="scale(1.0254,1)"/><circle cx="27.03" cy="-0.75" r="0.85" fill="#1c1c2c" stroke="none" transform="scale(1.0254,1)"/><circle cx="29.90" cy="-0.75" r="0.85" fill="#1c1c2c" stroke="none" transform="scale(1.0254,1)"/><path transform="translate(33.18,0) matrix(14.000,0,-5.040,14.000,5.040,-14.000)" d="M0.04,0.27 L0.26,0 L0.26,1" vector-effect="non-scaling-stroke"/><path transform="translate(39.62,0) matrix(14.000,0,-5.040,14.000,5.040,-14.000)" d="M0.04,0.27 L0.26,0 L0.26,1" vector-effect="non-scaling-stroke"/><path transform="translate(46.06,0) matrix(14.000,0,-5.040,14.000,5.040,-14.000)" d="M0,0.25 L0,0.75 C0,0.91 0.08,1 0.19,1 C0.30,1 0.38,0.91 0.38,0.75 L0.38,0.25 C0.38,0.09 0.30,0 0.19,0 C0.08,0 0,0.09 0,0.25 Z" vector-effect="non-scaling-stroke"/></g>
<g fill="none" stroke="#1c1c2c" stroke-width="1.2" stroke-linecap="round" stroke-linejoin="round"><path transform="translate(325.30,448.80) matrix(14.300,0,-5.148,14.300,5.148,-14.300)" d="M0,0 L0,1 M0.43,0 L0.0,0.5 M0.09,0.43 L0.43,1" vector-effect="non-scaling-stroke"/><path transform="translate(333.20,448.80) matrix(14.300,0,-5.148,14.300,5.148,-14.300)" d="M0,0 L0.36,1 L0.52,0" vector-effect="non-scaling-stroke"/><path transform="translate(344.40,448.80) matrix(14.300,0,-5.148,14.300,5.148,-14.300)" d="M0,1 L0,0 L0.24,0 C0.37,0 0.44,0.09 0.44,0.25 C0.44,0.42 0.37,0.5 0.24,0.5 L0,0.5" vector-effect="non-scaling-stroke"/><path transform="translate(359.10,448.80) matrix(14.300,0,-5.148,14.300,5.148,-14.300)" d="M0,0 L0.18,0 C0.31,0 0.37,0.09 0.37,0.22 C0.37,0.38 0.27,0.5 0.15,0.5 C0.33,0.5 0.44,0.6 0.44,0.74 C0.44,0.9 0.33,1 0.16,1 L0,1" vector-effect="non-scaling-stroke"/><path transform="translate(367.20,448.80) matrix(14.300,0,-5.148,14.300,5.148,-14.300)" d="M0.44,0 L0.1,0 L0.05,0.5 C0.12,0.45 0.19,0.42 0.25,0.42 C0.37,0.42 0.44,0.52 0.44,0.7 C0.44,0.9 0.33,1 0.18,1 L0,1" vector-effect="non-scaling-stroke"/><path transform="translate(377.10,448.80) matrix(14.300,0,-5.148,14.300,5.148,-14.300)" d="M0,0.25 L0,0.75 C0,0.91 0.08,1 0.19,1 C0.30,1 0.38,0.91 0.38,0.75 L0.38,0.25 C0.38,0.09 0.30,0 0.19,0 C0.08,0 0,0.09 0,0.25 Z" vector-effect="non-scaling-stroke"/><path transform="translate(384.50,448.80) matrix(14.300,0,-5.148,14.300,5.148,-14.300)" d="M0,0.69 L0.45,0.69" vector-effect="non-scaling-stroke"/><path transform="translate(392.30,448.80) matrix(14.300,0,-5.148,14.300,5.148,-14.300)" d="M0.04,0.27 L0.26,0 L0.26,1" vector-effect="non-scaling-stroke"/><path transform="translate(398.50,448.80) matrix(14.300,0,-5.148,14.300,5.148,-14.300)" d="M0,0.22 C0.03,0.07 0.11,0 0.22,0 C0.36,0 0.46,0.08 0.46,0.24 C0.46,0.42 0.25,0.66 0,1 L0.45,1" vector-effect="non-scaling-stroke"/><path transform="translate(407.60,448.80) matrix(14.300,0,-5.148,14.300,5.148,-14.300)" d="M0,0.25 L0,0.75 C0,0.91 0.08,1 0.19,1 C0.30,1 0.38,0.91 0.38,0.75 L0.38,0.25 C0.38,0.09 0.30,0 0.19,0 C0.08,0 0,0.09 0,0.25 Z" vector-effect="non-scaling-stroke"/><path transform="translate(416.70,448.80) matrix(14.300,0,-5.148,14.300,5.148,-14.300)" d="M0,0.69 L0.45,0.69" vector-effect="non-scaling-stroke"/><path transform="translate(425.10,448.80) matrix(14.300,0,-5.148,14.300,5.148,-14.300)" d="M0,0 L0,1 L0.33,1" vector-effect="non-scaling-stroke"/><circle cx="432.23" cy="448.05" r="0.85" fill="#1c1c2c" stroke="none"/><path transform="translate(435.00,448.80) matrix(14.300,0,-5.148,14.300,5.148,-14.300)" d="M0,0.25 L0,0.75 C0,0.91 0.08,1 0.19,1 C0.30,1 0.38,0.91 0.38,0.75 L0.38,0.25 C0.38,0.09 0.30,0 0.19,0 C0.08,0 0,0.09 0,0.25 Z" vector-effect="non-scaling-stroke"/><path transform="translate(444.60,448.80) matrix(14.300,0,-5.148,14.300,5.148,-14.300)" d="M0,0.25 L0,0.75 C0,0.91 0.08,1 0.19,1 C0.30,1 0.38,0.91 0.38,0.75 L0.38,0.25 C0.38,0.09 0.30,0 0.19,0 C0.08,0 0,0.09 0,0.25 Z" vector-effect="non-scaling-stroke"/><circle cx="453.33" cy="448.05" r="0.85" fill="#1c1c2c" stroke="none"/><path transform="translate(455.90,448.80) matrix(14.300,0,-5.148,14.300,5.148,-14.300)" d="M0,0.25 L0,0.75 C0,0.91 0.08,1 0.19,1 C0.30,1 0.38,0.91 0.38,0.75 L0.38,0.25 C0.38,0.09 0.30,0 0.19,0 C0.08,0 0,0.09 0,0.25 Z" vector-effect="non-scaling-stroke"/><path transform="translate(465.50,448.80) matrix(14.300,0,-5.148,14.300,5.148,-14.300)" d="M0,0.25 L0,0.75 C0,0.91 0.08,1 0.19,1 C0.30,1 0.38,0.91 0.38,0.75 L0.38,0.25 C0.38,0.09 0.30,0 0.19,0 C0.08,0 0,0.09 0,0.25 Z" vector-effect="non-scaling-stroke"/><path transform="translate(475.20,448.80) matrix(14.300,0,-5.148,14.300,5.148,-14.300)" d="M0,0.25 L0,0.75 C0,0.91 0.08,1 0.19,1 C0.30,1 0.38,0.91 0.38,0.75 L0.38,0.25 C0.38,0.09 0.30,0 0.19,0 C0.08,0 0,0.09 0,0.25 Z" vector-effect="non-scaling-stroke"/></g>
<line x1="774.70" y1="175.60" x2="969.30" y2="175.60" stroke="#111" stroke-width="1.7"/>
<line x1="774.70" y1="184.70" x2="969.30" y2="184.70" stroke="#000" stroke-width="1.3"/>
<line x1="774.70" y1="187.50" x2="969.30" y2="187.50" stroke="#666" stroke-width="1.0"/>
<rect x="772.50" y="175.00" width="2.30" height="11.60" stroke="#000" stroke-width="1.2" fill="#fff"/>
<rect x="969.60" y="174.80" width="2.30" height="12.00" stroke="#000" stroke-width="1.4" fill="#fff"/>
<circle cx="792.00" cy="180.30" r="3.30" stroke="#000" stroke-width="1.0" fill="none"/>
<circle cx="951.60" cy="180.30" r="3.30" stroke="#000" stroke-width="1.0" fill="none"/>
<path d="M779.6,243.6 V267.0 H691.3" stroke="#000" stroke-width="1.4" fill="none" />
<path d="M964.5,243.6 V267.0 H984.5" stroke="#000" stroke-width="1.4" fill="none" />
<path d="M871.9,207.2 L887.0,207.2 C889.60,207.20 889.40,202.40 891.80,202.40 L894.40,202.40 C896.80,202.40 896.80,207.20 899.60,207.20 C902.60,207.20 902.40,202.40 904.80,202.40 L907.40,202.40 C909.80,202.40 909.80,207.20 912.60,207.20 L944,207.2 C948.5,207.2 949.3,205 949.6,198 L950.2,188.0" stroke="#000" stroke-width="1.0" fill="none" />
<rect x="785.80" y="188.10" width="86.10" height="28.30" stroke="#555" stroke-width="1.1" fill="#fff"/>
<circle cx="789.70" cy="191.90" r="1.50" stroke="#000" stroke-width="1.0" fill="none"/>
<circle cx="789.70" cy="212.50" r="1.50" stroke="#000" stroke-width="1.0" fill="none"/>
<circle cx="868.00" cy="191.90" r="1.50" stroke="#000" stroke-width="1.0" fill="none"/>
<circle cx="868.00" cy="212.50" r="1.50" stroke="#000" stroke-width="1.0" fill="none"/>
<rect x="824.10" y="197.60" width="38.7" height="9.6" rx="4.8" ry="4.8" fill="#fff" stroke="#000" stroke-width="1.2"/>
<line x1="833.00" y1="207.50" x2="853.00" y2="207.50" stroke="#888" stroke-width="1.0"/>
<g transform="translate(854.00,195.60) rotate(-30)"><rect x="-4.6" y="-2.9" width="9.2" height="5.8" fill="#fff" stroke="#000" stroke-width="1.1"/><rect x="-4.6" y="-2.9" width="4.0" height="5.8" fill="#222"/><line x1="1.2" y1="-2.9" x2="1.2" y2="2.9" stroke="#000" stroke-width="0.8"/><line x1="3.0" y1="-2.9" x2="3.0" y2="2.9" stroke="#000" stroke-width="0.8"/></g>
<polygon points="791.85,202.30 795.75,194.70 804.95,194.70 808.85,202.30 804.95,209.70 795.75,209.70" fill="#fff" stroke="#000" stroke-width="1.6"/>
<rect x="795.75" y="193.50" width="9.20" height="1.80" stroke="#000" stroke-width="0" fill="#333"/>
<circle cx="800.35" cy="202.30" r="5.90" stroke="#000" stroke-width="1.5" fill="none"/>
<circle cx="800.35" cy="202.30" r="3.60" stroke="#000" stroke-width="1.1" fill="none"/>
<line x1="800.50" y1="191.80" x2="800.50" y2="211.30" stroke="#000" stroke-width="1.0"/>
<polygon points="834.80,202.30 838.70,194.70 847.90,194.70 851.80,202.30 847.90,209.70 838.70,209.70" fill="#fff" stroke="#000" stroke-width="1.6"/>
<rect x="838.70" y="193.50" width="9.20" height="1.80" stroke="#000" stroke-width="0" fill="#333"/>
<circle cx="843.30" cy="202.30" r="5.90" stroke="#000" stroke-width="1.5" fill="none"/>
<circle cx="843.30" cy="202.30" r="3.60" stroke="#000" stroke-width="1.1" fill="none"/>
<line x1="843.50" y1="191.80" x2="843.50" y2="211.30" stroke="#000" stroke-width="1.0"/>
<line x1="784.35" y1="202.50" x2="812.85" y2="202.50" stroke="#000" stroke-width="0.9"/>
<line x1="831.30" y1="202.50" x2="854.30" y2="202.50" stroke="#000" stroke-width="0.9"/>
<line x1="781.00" y1="198.00" x2="781.00" y2="243.00" stroke="#000" stroke-width="3.2"/>
<rect x="778.60" y="187.20" width="5.6" height="11.2" rx="1.5" fill="#fff" stroke="#000" stroke-width="1.2"/>
<rect x="772.50" y="191.20" width="21.10" height="2.4" rx="1.2" ry="1.2" fill="#fff" stroke="#000" stroke-width="1.3"/>
<line x1="781.50" y1="188.00" x2="781.50" y2="198.00" stroke="#000" stroke-width="0.8"/>
<rect x="776.00" y="234.20" width="3.00" height="8.0" rx="1" ry="1" fill="#fff" stroke="#000" stroke-width="1.1"/>
<line x1="776.00" y1="236.50" x2="779.00" y2="236.50" stroke="#000" stroke-width="0.7"/>
<line x1="776.00" y1="240.50" x2="779.00" y2="240.50" stroke="#000" stroke-width="0.7"/>
<path d="M784.50,243.00 V235.50 Q784.50,233.50 786.40,233.50 H791.40 Q793.30,233.50 793.30,235.50 V243.00" fill="#fff" stroke="#000" stroke-width="1.1"/>
<line x1="784.50" y1="236.50" x2="793.30" y2="236.50" stroke="#000" stroke-width="1.0"/>
<rect x="786.25" y="243.00" width="5.30" height="17.60" stroke="#000" stroke-width="1.1" fill="#fff"/>
<line x1="962.90" y1="198.00" x2="962.90" y2="243.00" stroke="#000" stroke-width="3.2"/>
<rect x="959.70" y="187.20" width="5.6" height="11.2" rx="1.5" fill="#fff" stroke="#000" stroke-width="1.2"/>
<rect x="950.30" y="191.20" width="21.10" height="2.4" rx="1.2" ry="1.2" fill="#fff" stroke="#000" stroke-width="1.3"/>
<line x1="962.50" y1="188.00" x2="962.50" y2="198.00" stroke="#000" stroke-width="0.8"/>
<rect x="964.90" y="234.20" width="3.00" height="8.0" rx="1" ry="1" fill="#fff" stroke="#000" stroke-width="1.1"/>
<line x1="964.90" y1="236.50" x2="967.90" y2="236.50" stroke="#000" stroke-width="0.7"/>
<line x1="964.90" y1="240.50" x2="967.90" y2="240.50" stroke="#000" stroke-width="0.7"/>
<path d="M950.60,243.00 V235.50 Q950.60,233.50 952.50,233.50 H957.50 Q959.40,233.50 959.40,235.50 V243.00" fill="#fff" stroke="#000" stroke-width="1.1"/>
<line x1="950.60" y1="236.50" x2="959.40" y2="236.50" stroke="#000" stroke-width="1.0"/>
<rect x="952.35" y="243.00" width="5.30" height="17.60" stroke="#000" stroke-width="1.1" fill="#fff"/>
<line x1="781.00" y1="243.20" x2="962.90" y2="243.20" stroke="#000" stroke-width="3.0"/>
<rect x="801.00" y="239.90" width="5.2" height="6.2" rx="2" ry="2" fill="#fff" stroke="#000" stroke-width="1.1"/>
<line x1="801.00" y1="243.20" x2="806.20" y2="243.20" stroke="#000" stroke-width="1.4"/>
<rect x="869.40" y="239.90" width="5.2" height="6.2" rx="2" ry="2" fill="#fff" stroke="#000" stroke-width="1.1"/>
<line x1="869.40" y1="243.20" x2="874.60" y2="243.20" stroke="#000" stroke-width="1.4"/>
<rect x="937.70" y="239.90" width="5.2" height="6.2" rx="2" ry="2" fill="#fff" stroke="#000" stroke-width="1.1"/>
<line x1="937.70" y1="243.20" x2="942.90" y2="243.20" stroke="#000" stroke-width="1.4"/>
<line x1="774.70" y1="363.10" x2="969.30" y2="363.10" stroke="#111" stroke-width="1.7"/>
<line x1="774.70" y1="372.20" x2="969.30" y2="372.20" stroke="#000" stroke-width="1.3"/>
<line x1="774.70" y1="374.50" x2="969.30" y2="374.50" stroke="#666" stroke-width="1.0"/>
<rect x="772.50" y="362.50" width="2.30" height="11.60" stroke="#000" stroke-width="1.2" fill="#fff"/>
<rect x="969.60" y="362.30" width="2.30" height="12.00" stroke="#000" stroke-width="1.4" fill="#fff"/>
<circle cx="792.00" cy="367.80" r="3.30" stroke="#000" stroke-width="1.0" fill="none"/>
<circle cx="951.60" cy="367.80" r="3.30" stroke="#000" stroke-width="1.0" fill="none"/>
<path d="M779.6,431.1 V454.5 H759.0" stroke="#000" stroke-width="1.4" fill="none" />
<path d="M964.5,431.1 V454.5 H984.5" stroke="#000" stroke-width="1.4" fill="none" />
<path d="M828.8,394.7 L800.8,394.7 C795,394.7 793.8,391.5 793.2,384.5 L792.8,375.5" stroke="#000" stroke-width="1.0" fill="none" />
<path d="M914.9,394.7 L944,394.7 C948.5,394.7 949.3,392.5 949.6,385.5 L950.2,375.5" stroke="#000" stroke-width="1.0" fill="none" />
<rect x="828.80" y="375.60" width="86.10" height="28.30" stroke="#555" stroke-width="1.1" fill="#fff"/>
<circle cx="832.70" cy="379.40" r="1.50" stroke="#000" stroke-width="1.0" fill="none"/>
<circle cx="832.70" cy="400.00" r="1.50" stroke="#000" stroke-width="1.0" fill="none"/>
<circle cx="911.00" cy="379.40" r="1.50" stroke="#000" stroke-width="1.0" fill="none"/>
<circle cx="911.00" cy="400.00" r="1.50" stroke="#000" stroke-width="1.0" fill="none"/>
<rect x="867.10" y="385.10" width="38.7" height="9.6" rx="4.8" ry="4.8" fill="#fff" stroke="#000" stroke-width="1.2"/>
<line x1="876.00" y1="394.50" x2="896.00" y2="394.50" stroke="#888" stroke-width="1.0"/>
<g transform="translate(897.00,383.10) rotate(-30)"><rect x="-4.6" y="-2.9" width="9.2" height="5.8" fill="#fff" stroke="#000" stroke-width="1.1"/><rect x="-4.6" y="-2.9" width="4.0" height="5.8" fill="#222"/><line x1="1.2" y1="-2.9" x2="1.2" y2="2.9" stroke="#000" stroke-width="0.8"/><line x1="3.0" y1="-2.9" x2="3.0" y2="2.9" stroke="#000" stroke-width="0.8"/></g>
<polygon points="834.85,389.80 838.75,382.20 847.95,382.20 851.85,389.80 847.95,397.20 838.75,397.20" fill="#fff" stroke="#000" stroke-width="1.6"/>
<rect x="838.75" y="381.00" width="9.20" height="1.80" stroke="#000" stroke-width="0" fill="#333"/>
<circle cx="843.35" cy="389.80" r="5.90" stroke="#000" stroke-width="1.5" fill="none"/>
<circle cx="843.35" cy="389.80" r="3.60" stroke="#000" stroke-width="1.1" fill="none"/>
<line x1="843.50" y1="379.30" x2="843.50" y2="398.80" stroke="#000" stroke-width="1.0"/>
<polygon points="877.80,389.80 881.70,382.20 890.90,382.20 894.80,389.80 890.90,397.20 881.70,397.20" fill="#fff" stroke="#000" stroke-width="1.6"/>
<rect x="881.70" y="381.00" width="9.20" height="1.80" stroke="#000" stroke-width="0" fill="#333"/>
<circle cx="886.30" cy="389.80" r="5.90" stroke="#000" stroke-width="1.5" fill="none"/>
<circle cx="886.30" cy="389.80" r="3.60" stroke="#000" stroke-width="1.1" fill="none"/>
<line x1="886.50" y1="379.30" x2="886.50" y2="398.80" stroke="#000" stroke-width="1.0"/>
<line x1="827.35" y1="389.50" x2="855.85" y2="389.50" stroke="#000" stroke-width="0.9"/>
<line x1="874.30" y1="389.50" x2="897.30" y2="389.50" stroke="#000" stroke-width="0.9"/>
<line x1="781.00" y1="385.50" x2="781.00" y2="430.50" stroke="#000" stroke-width="3.2"/>
<rect x="778.60" y="374.70" width="5.6" height="11.2" rx="1.5" fill="#fff" stroke="#000" stroke-width="1.2"/>
<rect x="772.50" y="378.70" width="21.10" height="2.4" rx="1.2" ry="1.2" fill="#fff" stroke="#000" stroke-width="1.3"/>
<line x1="781.50" y1="375.50" x2="781.50" y2="385.50" stroke="#000" stroke-width="0.8"/>
<rect x="776.00" y="421.70" width="3.00" height="8.0" rx="1" ry="1" fill="#fff" stroke="#000" stroke-width="1.1"/>
<line x1="776.00" y1="424.50" x2="779.00" y2="424.50" stroke="#000" stroke-width="0.7"/>
<line x1="776.00" y1="427.50" x2="779.00" y2="427.50" stroke="#000" stroke-width="0.7"/>
<path d="M784.50,430.50 V423.00 Q784.50,421.00 786.40,421.00 H791.40 Q793.30,421.00 793.30,423.00 V430.50" fill="#fff" stroke="#000" stroke-width="1.1"/>
<line x1="784.50" y1="424.50" x2="793.30" y2="424.50" stroke="#000" stroke-width="1.0"/>
<rect x="786.25" y="430.50" width="5.30" height="17.60" stroke="#000" stroke-width="1.1" fill="#fff"/>
<line x1="962.90" y1="385.50" x2="962.90" y2="430.50" stroke="#000" stroke-width="3.2"/>
<rect x="959.70" y="374.70" width="5.6" height="11.2" rx="1.5" fill="#fff" stroke="#000" stroke-width="1.2"/>
<rect x="950.30" y="378.70" width="21.10" height="2.4" rx="1.2" ry="1.2" fill="#fff" stroke="#000" stroke-width="1.3"/>
<line x1="962.50" y1="375.50" x2="962.50" y2="385.50" stroke="#000" stroke-width="0.8"/>
<rect x="964.90" y="421.70" width="3.00" height="8.0" rx="1" ry="1" fill="#fff" stroke="#000" stroke-width="1.1"/>
<line x1="964.90" y1="424.50" x2="967.90" y2="424.50" stroke="#000" stroke-width="0.7"/>
<line x1="964.90" y1="427.50" x2="967.90" y2="427.50" stroke="#000" stroke-width="0.7"/>
<path d="M950.60,430.50 V423.00 Q950.60,421.00 952.50,421.00 H957.50 Q959.40,421.00 959.40,423.00 V430.50" fill="#fff" stroke="#000" stroke-width="1.1"/>
<line x1="950.60" y1="424.50" x2="959.40" y2="424.50" stroke="#000" stroke-width="1.0"/>
<rect x="952.35" y="430.50" width="5.30" height="17.60" stroke="#000" stroke-width="1.1" fill="#fff"/>
<line x1="781.00" y1="430.70" x2="962.90" y2="430.70" stroke="#000" stroke-width="3.0"/>
<rect x="801.00" y="427.40" width="5.2" height="6.2" rx="2" ry="2" fill="#fff" stroke="#000" stroke-width="1.1"/>
<line x1="801.00" y1="430.70" x2="806.20" y2="430.70" stroke="#000" stroke-width="1.4"/>
<rect x="869.40" y="427.40" width="5.2" height="6.2" rx="2" ry="2" fill="#fff" stroke="#000" stroke-width="1.1"/>
<line x1="869.40" y1="430.70" x2="874.60" y2="430.70" stroke="#000" stroke-width="1.4"/>
<rect x="937.70" y="427.40" width="5.2" height="6.2" rx="2" ry="2" fill="#fff" stroke="#000" stroke-width="1.1"/>
<line x1="937.70" y1="430.70" x2="942.90" y2="430.70" stroke="#000" stroke-width="1.4"/>
<line x1="774.70" y1="550.90" x2="969.30" y2="550.90" stroke="#111" stroke-width="1.7"/>
<line x1="774.70" y1="560.00" x2="969.30" y2="560.00" stroke="#000" stroke-width="1.3"/>
<line x1="774.70" y1="562.50" x2="969.30" y2="562.50" stroke="#666" stroke-width="1.0"/>
<rect x="772.50" y="550.30" width="2.30" height="11.60" stroke="#000" stroke-width="1.2" fill="#fff"/>
<rect x="969.60" y="550.10" width="2.30" height="12.00" stroke="#000" stroke-width="1.4" fill="#fff"/>
<circle cx="792.00" cy="555.60" r="3.30" stroke="#000" stroke-width="1.0" fill="none"/>
<circle cx="951.60" cy="555.60" r="3.30" stroke="#000" stroke-width="1.0" fill="none"/>
<path d="M779.6,618.9 V642.3 H759.0" stroke="#000" stroke-width="1.4" fill="none" />
<path d="M964.5,618.9 V642.3 H984.5" stroke="#000" stroke-width="1.4" fill="none" />
<path d="M871.8,582.5 L857.0,582.5 C854.40,582.50 854.60,577.70 852.20,577.70 L849.60,577.70 C847.20,577.70 847.20,582.50 844.40,582.50 C841.40,582.50 841.60,577.70 839.20,577.70 L836.60,577.70 C834.20,577.70 834.20,582.50 831.40,582.50 L800.8,582.5 C795,582.5 793.8,579.3 793.2,572.3 L792.8,563.3" stroke="#000" stroke-width="1.0" fill="none" />
<rect x="871.80" y="563.40" width="86.10" height="28.30" stroke="#555" stroke-width="1.1" fill="#fff"/>
<circle cx="875.70" cy="567.20" r="1.50" stroke="#000" stroke-width="1.0" fill="none"/>
<circle cx="875.70" cy="587.80" r="1.50" stroke="#000" stroke-width="1.0" fill="none"/>
<circle cx="954.00" cy="567.20" r="1.50" stroke="#000" stroke-width="1.0" fill="none"/>
<circle cx="954.00" cy="587.80" r="1.50" stroke="#000" stroke-width="1.0" fill="none"/>
<rect x="910.10" y="572.90" width="38.7" height="9.6" rx="4.8" ry="4.8" fill="#fff" stroke="#000" stroke-width="1.2"/>
<line x1="919.00" y1="582.50" x2="939.00" y2="582.50" stroke="#888" stroke-width="1.0"/>
<g transform="translate(940.00,570.90) rotate(-30)"><rect x="-4.6" y="-2.9" width="9.2" height="5.8" fill="#fff" stroke="#000" stroke-width="1.1"/><rect x="-4.6" y="-2.9" width="4.0" height="5.8" fill="#222"/><line x1="1.2" y1="-2.9" x2="1.2" y2="2.9" stroke="#000" stroke-width="0.8"/><line x1="3.0" y1="-2.9" x2="3.0" y2="2.9" stroke="#000" stroke-width="0.8"/></g>
<polygon points="877.85,577.60 881.75,570.00 890.95,570.00 894.85,577.60 890.95,585.00 881.75,585.00" fill="#fff" stroke="#000" stroke-width="1.6"/>
<rect x="881.75" y="568.80" width="9.20" height="1.80" stroke="#000" stroke-width="0" fill="#333"/>
<circle cx="886.35" cy="577.60" r="5.90" stroke="#000" stroke-width="1.5" fill="none"/>
<circle cx="886.35" cy="577.60" r="3.60" stroke="#000" stroke-width="1.1" fill="none"/>
<line x1="886.50" y1="567.10" x2="886.50" y2="586.60" stroke="#000" stroke-width="1.0"/>
<polygon points="920.80,577.60 924.70,570.00 933.90,570.00 937.80,577.60 933.90,585.00 924.70,585.00" fill="#fff" stroke="#000" stroke-width="1.6"/>
<rect x="924.70" y="568.80" width="9.20" height="1.80" stroke="#000" stroke-width="0" fill="#333"/>
<circle cx="929.30" cy="577.60" r="5.90" stroke="#000" stroke-width="1.5" fill="none"/>
<circle cx="929.30" cy="577.60" r="3.60" stroke="#000" stroke-width="1.1" fill="none"/>
<line x1="929.50" y1="567.10" x2="929.50" y2="586.60" stroke="#000" stroke-width="1.0"/>
<line x1="870.35" y1="577.50" x2="898.85" y2="577.50" stroke="#000" stroke-width="0.9"/>
<line x1="917.30" y1="577.50" x2="940.30" y2="577.50" stroke="#000" stroke-width="0.9"/>
<line x1="781.00" y1="573.30" x2="781.00" y2="618.30" stroke="#000" stroke-width="3.2"/>
<rect x="778.60" y="562.50" width="5.6" height="11.2" rx="1.5" fill="#fff" stroke="#000" stroke-width="1.2"/>
<rect x="772.50" y="566.50" width="21.10" height="2.4" rx="1.2" ry="1.2" fill="#fff" stroke="#000" stroke-width="1.3"/>
<line x1="781.50" y1="563.30" x2="781.50" y2="573.30" stroke="#000" stroke-width="0.8"/>
<rect x="776.00" y="609.50" width="3.00" height="8.0" rx="1" ry="1" fill="#fff" stroke="#000" stroke-width="1.1"/>
<line x1="776.00" y1="611.50" x2="779.00" y2="611.50" stroke="#000" stroke-width="0.7"/>
<line x1="776.00" y1="615.50" x2="779.00" y2="615.50" stroke="#000" stroke-width="0.7"/>
<path d="M784.50,618.30 V610.80 Q784.50,608.80 786.40,608.80 H791.40 Q793.30,608.80 793.30,610.80 V618.30" fill="#fff" stroke="#000" stroke-width="1.1"/>
<line x1="784.50" y1="612.50" x2="793.30" y2="612.50" stroke="#000" stroke-width="1.0"/>
<rect x="786.25" y="618.30" width="5.30" height="17.60" stroke="#000" stroke-width="1.1" fill="#fff"/>
<line x1="962.90" y1="573.30" x2="962.90" y2="618.30" stroke="#000" stroke-width="3.2"/>
<rect x="959.70" y="562.50" width="5.6" height="11.2" rx="1.5" fill="#fff" stroke="#000" stroke-width="1.2"/>
<rect x="950.30" y="566.50" width="21.10" height="2.4" rx="1.2" ry="1.2" fill="#fff" stroke="#000" stroke-width="1.3"/>
<line x1="962.50" y1="563.30" x2="962.50" y2="573.30" stroke="#000" stroke-width="0.8"/>
<rect x="964.90" y="609.50" width="3.00" height="8.0" rx="1" ry="1" fill="#fff" stroke="#000" stroke-width="1.1"/>
<line x1="964.90" y1="611.50" x2="967.90" y2="611.50" stroke="#000" stroke-width="0.7"/>
<line x1="964.90" y1="615.50" x2="967.90" y2="615.50" stroke="#000" stroke-width="0.7"/>
<path d="M950.60,618.30 V610.80 Q950.60,608.80 952.50,608.80 H957.50 Q959.40,608.80 959.40,610.80 V618.30" fill="#fff" stroke="#000" stroke-width="1.1"/>
<line x1="950.60" y1="612.50" x2="959.40" y2="612.50" stroke="#000" stroke-width="1.0"/>
<rect x="952.35" y="618.30" width="5.30" height="17.60" stroke="#000" stroke-width="1.1" fill="#fff"/>
<line x1="781.00" y1="618.50" x2="962.90" y2="618.50" stroke="#000" stroke-width="3.0"/>
<rect x="801.00" y="615.20" width="5.2" height="6.2" rx="2" ry="2" fill="#fff" stroke="#000" stroke-width="1.1"/>
<line x1="801.00" y1="618.50" x2="806.20" y2="618.50" stroke="#000" stroke-width="1.4"/>
<rect x="869.40" y="615.20" width="5.2" height="6.2" rx="2" ry="2" fill="#fff" stroke="#000" stroke-width="1.1"/>
<line x1="869.40" y1="618.50" x2="874.60" y2="618.50" stroke="#000" stroke-width="1.4"/>
<rect x="937.70" y="615.20" width="5.2" height="6.2" rx="2" ry="2" fill="#fff" stroke="#000" stroke-width="1.1"/>
<line x1="937.70" y1="618.50" x2="942.90" y2="618.50" stroke="#000" stroke-width="1.4"/>
<line x1="691.30" y1="174.50" x2="772.50" y2="174.50" stroke="#000" stroke-width="1.1"/>
<line x1="717.00" y1="174.90" x2="772.50" y2="174.90" stroke="#000" stroke-width="1.6"/>
<line x1="691.30" y1="267.50" x2="779.60" y2="267.50" stroke="#000" stroke-width="1.1"/>
<line x1="759.00" y1="267.30" x2="779.60" y2="267.30" stroke="#000" stroke-width="1.7"/>
<line x1="718.00" y1="244.50" x2="781.00" y2="244.50" stroke="#000" stroke-width="1.0"/>
<line x1="697.50" y1="174.90" x2="697.50" y2="267.30" stroke="#000" stroke-width="1.0"/>
<path d="M699.10,189.40 L697.10,175.40 L695.10,189.40 Z" fill="#c8c8c8" stroke="none"/>
<path d="M699.10,189.40 L697.10,175.40 L695.10,189.40" fill="none" stroke="#000" stroke-width="0.85" stroke-linejoin="miter"/>
<line x1="697.10" y1="175.40" x2="697.10" y2="181.00" stroke="#000" stroke-width="1.0"/>
<path d="M695.10,252.80 L697.10,266.80 L699.10,252.80 Z" fill="#c8c8c8" stroke="none"/>
<path d="M695.10,252.80 L697.10,266.80 L699.10,252.80" fill="none" stroke="#000" stroke-width="0.85" stroke-linejoin="miter"/>
<line x1="697.10" y1="266.80" x2="697.10" y2="261.20" stroke="#000" stroke-width="1.0"/>
<line x1="724.50" y1="174.90" x2="724.50" y2="244.50" stroke="#000" stroke-width="1.0"/>
<path d="M726.40,189.40 L724.40,175.40 L722.40,189.40 Z" fill="#c8c8c8" stroke="none"/>
<path d="M726.40,189.40 L724.40,175.40 L722.40,189.40" fill="none" stroke="#000" stroke-width="0.85" stroke-linejoin="miter"/>
<line x1="724.40" y1="175.40" x2="724.40" y2="181.00" stroke="#000" stroke-width="1.0"/>
<path d="M722.40,230.00 L724.40,244.00 L726.40,230.00 Z" fill="#c8c8c8" stroke="none"/>
<path d="M722.40,230.00 L724.40,244.00 L726.40,230.00" fill="none" stroke="#000" stroke-width="0.85" stroke-linejoin="miter"/>
<line x1="724.40" y1="244.00" x2="724.40" y2="238.40" stroke="#000" stroke-width="1.0"/>
<line x1="749.50" y1="154.70" x2="749.50" y2="222.60" stroke="#000" stroke-width="1.0"/>
<path d="M747.30,160.90 L749.30,174.90 L751.30,160.90 Z" fill="#c8c8c8" stroke="none"/>
<path d="M747.30,160.90 L749.30,174.90 L751.30,160.90" fill="none" stroke="#000" stroke-width="0.85" stroke-linejoin="miter"/>
<line x1="749.30" y1="174.90" x2="749.30" y2="169.30" stroke="#000" stroke-width="1.0"/>
<path d="M751.30,216.30 L749.30,202.30 L747.30,216.30 Z" fill="#c8c8c8" stroke="none"/>
<path d="M751.30,216.30 L749.30,202.30 L747.30,216.30" fill="none" stroke="#000" stroke-width="0.85" stroke-linejoin="miter"/>
<line x1="749.30" y1="202.30" x2="749.30" y2="207.90" stroke="#000" stroke-width="1.0"/>
<line x1="743.30" y1="202.50" x2="784.00" y2="202.50" stroke="#000" stroke-width="0.9"/>
<g transform="rotate(-90 689.10 230.70) translate(686.12,230.70) scale(0.9801,1)" fill="none" stroke="#1c1c2c" stroke-width="1.2" stroke-linecap="round" stroke-linejoin="round"><path transform="translate(0.00,0) matrix(14.000,0,-5.040,14.000,5.040,-14.000)" d="M0.04,0.27 L0.26,0 L0.26,1" vector-effect="non-scaling-stroke"/><path transform="translate(6.44,0) matrix(14.000,0,-5.040,14.000,5.040,-14.000)" d="M0.38,0 C0.15,0.05 0,0.25 0,0.62 C0,0.88 0.09,1 0.21,1 C0.35,1 0.43,0.88 0.43,0.72 C0.43,0.54 0.34,0.45 0.22,0.45 C0.1,0.45 0.02,0.52 0,0.6" vector-effect="non-scaling-stroke"/><path transform="translate(15.12,0) matrix(14.000,0,-5.040,14.000,5.040,-14.000)" d="M0,0 L0.18,0 C0.31,0 0.37,0.09 0.37,0.22 C0.37,0.38 0.27,0.5 0.15,0.5 C0.33,0.5 0.44,0.6 0.44,0.74 C0.44,0.9 0.33,1 0.16,1 L0,1" vector-effect="non-scaling-stroke"/></g>
<g transform="rotate(-90 716.60 220.90) translate(713.75,220.90) scale(0.9369,1)" fill="none" stroke="#1c1c2c" stroke-width="1.2" stroke-linecap="round" stroke-linejoin="round"><path transform="translate(0.00,0) matrix(14.000,0,-5.040,14.000,5.040,-14.000)" d="M0.04,0.27 L0.26,0 L0.26,1" vector-effect="non-scaling-stroke"/><path transform="translate(6.44,0) matrix(14.000,0,-5.040,14.000,5.040,-14.000)" d="M0,0.22 C0.03,0.07 0.11,0 0.22,0 C0.36,0 0.46,0.08 0.46,0.24 C0.46,0.42 0.25,0.66 0,1 L0.45,1" vector-effect="non-scaling-stroke"/><path transform="translate(14.84,0) matrix(14.000,0,-5.040,14.000,5.040,-14.000)" d="M0.34,1 L0.34,0 L-0.06,0.72 L0.44,0.72" vector-effect="non-scaling-stroke"/></g>
<g transform="rotate(-90 742.70 198.10) translate(743.30,198.10) scale(0.9956,1)" fill="none" stroke="#1c1c2c" stroke-width="1.2" stroke-linecap="round" stroke-linejoin="round"><path transform="translate(0.00,0) matrix(14.000,0,-5.040,14.000,5.040,-14.000)" d="M0.44,0 L0.1,0 L0.05,0.5 C0.12,0.45 0.19,0.42 0.25,0.42 C0.37,0.42 0.44,0.52 0.44,0.7 C0.44,0.9 0.33,1 0.18,1 L0,1" vector-effect="non-scaling-stroke"/><path transform="translate(8.68,0) matrix(14.000,0,-5.040,14.000,5.040,-14.000)" d="M0,0.25 L0,0.75 C0,0.91 0.08,1 0.19,1 C0.30,1 0.38,0.91 0.38,0.75 L0.38,0.25 C0.38,0.09 0.30,0 0.19,0 C0.08,0 0,0.09 0,0.25 Z" vector-effect="non-scaling-stroke"/></g>
<line x1="772.50" y1="174.90" x2="772.50" y2="317.70" stroke="#000" stroke-width="1.0"/>
<line x1="800.40" y1="202.30" x2="800.40" y2="317.70" stroke="#000" stroke-width="1.3"/>
<line x1="843.50" y1="190.00" x2="843.50" y2="317.70" stroke="#000" stroke-width="1.0"/>
<line x1="752.00" y1="311.50" x2="843.40" y2="311.50" stroke="#333" stroke-width="1.0"/>
<path d="M758.80,313.70 L772.80,311.70 L758.80,309.70 Z" fill="#c8c8c8" stroke="none"/>
<path d="M758.80,313.70 L772.80,311.70 L758.80,309.70" fill="none" stroke="#000" stroke-width="0.85" stroke-linejoin="miter"/>
<line x1="772.80" y1="311.70" x2="767.20" y2="311.70" stroke="#000" stroke-width="1.0"/>
<path d="M814.60,309.70 L800.60,311.70 L814.60,313.70 Z" fill="#c8c8c8" stroke="none"/>
<path d="M814.60,309.70 L800.60,311.70 L814.60,313.70" fill="none" stroke="#000" stroke-width="0.85" stroke-linejoin="miter"/>
<line x1="800.60" y1="311.70" x2="806.20" y2="311.70" stroke="#000" stroke-width="1.0"/>
<path d="M829.00,313.70 L843.00,311.70 L829.00,309.70 Z" fill="#c8c8c8" stroke="none"/>
<path d="M829.00,313.70 L843.00,311.70 L829.00,309.70" fill="none" stroke="#000" stroke-width="0.85" stroke-linejoin="miter"/>
<line x1="843.00" y1="311.70" x2="837.40" y2="311.70" stroke="#000" stroke-width="1.0"/>
<g transform="translate(776.76,305.10) scale(0.9302,1)" fill="none" stroke="#1c1c2c" stroke-width="1.2" stroke-linecap="round" stroke-linejoin="round"><path transform="translate(0.00,0) matrix(14.400,0,-5.184,14.400,5.184,-14.400)" d="M0.44,0 L0.1,0 L0.05,0.5 C0.12,0.45 0.19,0.42 0.25,0.42 C0.37,0.42 0.44,0.52 0.44,0.7 C0.44,0.9 0.33,1 0.18,1 L0,1" vector-effect="non-scaling-stroke"/><path transform="translate(8.93,0) matrix(14.400,0,-5.184,14.400,5.184,-14.400)" d="M0,0.25 L0,0.75 C0,0.91 0.08,1 0.19,1 C0.30,1 0.38,0.91 0.38,0.75 L0.38,0.25 C0.38,0.09 0.30,0 0.19,0 C0.08,0 0,0.09 0,0.25 Z" vector-effect="non-scaling-stroke"/></g>
<g transform="translate(813.77,305.10) scale(0.8564,1)" fill="none" stroke="#1c1c2c" stroke-width="1.2" stroke-linecap="round" stroke-linejoin="round"><path transform="translate(0.00,0) matrix(14.400,0,-5.184,14.400,5.184,-14.400)" d="M0.02,0 L0.45,0 L0.06,1" vector-effect="non-scaling-stroke"/><path transform="translate(8.93,0) matrix(14.400,0,-5.184,14.400,5.184,-14.400)" d="M0.44,0 L0.1,0 L0.05,0.5 C0.12,0.45 0.19,0.42 0.25,0.42 C0.37,0.42 0.44,0.52 0.44,0.7 C0.44,0.9 0.33,1 0.18,1 L0,1" vector-effect="non-scaling-stroke"/></g>
<line x1="828.50" y1="337.40" x2="828.50" y2="376.00" stroke="#000" stroke-width="1.0"/>
<line x1="914.50" y1="337.40" x2="914.50" y2="376.00" stroke="#000" stroke-width="1.0"/>
<line x1="828.60" y1="343.50" x2="914.80" y2="343.50" stroke="#333" stroke-width="1.0"/>
<path d="M842.80,341.50 L828.80,343.50 L842.80,345.50 Z" fill="#c8c8c8" stroke="none"/>
<path d="M842.80,341.50 L828.80,343.50 L842.80,345.50" fill="none" stroke="#000" stroke-width="0.85" stroke-linejoin="miter"/>
<line x1="828.80" y1="343.50" x2="834.40" y2="343.50" stroke="#000" stroke-width="1.0"/>
<path d="M900.60,345.50 L914.60,343.50 L900.60,341.50 Z" fill="#c8c8c8" stroke="none"/>
<path d="M900.60,345.50 L914.60,343.50 L900.60,341.50" fill="none" stroke="#000" stroke-width="0.85" stroke-linejoin="miter"/>
<line x1="914.60" y1="343.50" x2="909.00" y2="343.50" stroke="#000" stroke-width="1.0"/>
<g transform="translate(858.41,336.10) scale(0.9829,1)" fill="none" stroke="#1c1c2c" stroke-width="1.2" stroke-linecap="round" stroke-linejoin="round"><path transform="translate(0.00,0) matrix(14.400,0,-5.184,14.400,5.184,-14.400)" d="M0.04,0.27 L0.26,0 L0.26,1" vector-effect="non-scaling-stroke"/><path transform="translate(6.62,0) matrix(14.400,0,-5.184,14.400,5.184,-14.400)" d="M0.44,0 L0.1,0 L0.05,0.5 C0.12,0.45 0.19,0.42 0.25,0.42 C0.37,0.42 0.44,0.52 0.44,0.7 C0.44,0.9 0.33,1 0.18,1 L0,1" vector-effect="non-scaling-stroke"/><path transform="translate(15.55,0) matrix(14.400,0,-5.184,14.400,5.184,-14.400)" d="M0,0.25 L0,0.75 C0,0.91 0.08,1 0.19,1 C0.30,1 0.38,0.91 0.38,0.75 L0.38,0.25 C0.38,0.09 0.30,0 0.19,0 C0.08,0 0,0.09 0,0.25 Z" vector-effect="non-scaling-stroke"/></g>
<line x1="972.00" y1="375.50" x2="1023.80" y2="375.50" stroke="#000" stroke-width="1.0"/>
<line x1="914.80" y1="404.50" x2="1023.80" y2="404.50" stroke="#000" stroke-width="1.0"/>
<line x1="1018.50" y1="375.40" x2="1018.50" y2="404.30" stroke="#000" stroke-width="1.0"/>
<path d="M1020.70,389.90 L1018.70,375.90 L1016.70,389.90 Z" fill="#c8c8c8" stroke="none"/>
<path d="M1020.70,389.90 L1018.70,375.90 L1016.70,389.90" fill="none" stroke="#000" stroke-width="0.85" stroke-linejoin="miter"/>
<line x1="1018.70" y1="375.90" x2="1018.70" y2="381.50" stroke="#000" stroke-width="1.0"/>
<path d="M1016.70,389.80 L1018.70,403.80 L1020.70,389.80 Z" fill="#c8c8c8" stroke="none"/>
<path d="M1016.70,389.80 L1018.70,403.80 L1020.70,389.80" fill="none" stroke="#000" stroke-width="0.85" stroke-linejoin="miter"/>
<line x1="1018.70" y1="403.80" x2="1018.70" y2="398.20" stroke="#000" stroke-width="1.0"/>
<g transform="rotate(-90 1010.30 399.90) translate(1010.91,399.90) scale(1.0108,1)" fill="none" stroke="#1c1c2c" stroke-width="1.2" stroke-linecap="round" stroke-linejoin="round"><path transform="translate(0.00,0) matrix(14.000,0,-5.040,14.000,5.040,-14.000)" d="M0.44,0 L0.1,0 L0.05,0.5 C0.12,0.45 0.19,0.42 0.25,0.42 C0.37,0.42 0.44,0.52 0.44,0.7 C0.44,0.9 0.33,1 0.18,1 L0,1" vector-effect="non-scaling-stroke"/><path transform="translate(8.68,0) matrix(14.000,0,-5.040,14.000,5.040,-14.000)" d="M0,0.25 L0,0.75 C0,0.91 0.08,1 0.19,1 C0.30,1 0.38,0.91 0.38,0.75 L0.38,0.25 C0.38,0.09 0.30,0 0.19,0 C0.08,0 0,0.09 0,0.25 Z" vector-effect="non-scaling-stroke"/></g>
<line x1="772.50" y1="380.00" x2="772.50" y2="497.00" stroke="#000" stroke-width="1.0"/>
<line x1="843.50" y1="377.00" x2="843.50" y2="497.00" stroke="#000" stroke-width="1.0"/>
<line x1="886.50" y1="377.00" x2="886.50" y2="497.00" stroke="#000" stroke-width="1.0"/>
<line x1="772.80" y1="491.50" x2="886.90" y2="491.50" stroke="#333" stroke-width="1.0"/>
<path d="M787.00,489.20 L773.00,491.20 L787.00,493.20 Z" fill="#c8c8c8" stroke="none"/>
<path d="M787.00,489.20 L773.00,491.20 L787.00,493.20" fill="none" stroke="#000" stroke-width="0.85" stroke-linejoin="miter"/>
<line x1="773.00" y1="491.20" x2="778.60" y2="491.20" stroke="#000" stroke-width="1.0"/>
<path d="M829.10,493.20 L843.10,491.20 L829.10,489.20 Z" fill="#c8c8c8" stroke="none"/>
<path d="M829.10,493.20 L843.10,491.20 L829.10,489.20" fill="none" stroke="#000" stroke-width="0.85" stroke-linejoin="miter"/>
<line x1="843.10" y1="491.20" x2="837.50" y2="491.20" stroke="#000" stroke-width="1.0"/>
<path d="M857.50,489.20 L843.50,491.20 L857.50,493.20 Z" fill="#c8c8c8" stroke="none"/>
<path d="M857.50,489.20 L843.50,491.20 L857.50,493.20" fill="none" stroke="#000" stroke-width="0.85" stroke-linejoin="miter"/>
<line x1="843.50" y1="491.20" x2="849.10" y2="491.20" stroke="#000" stroke-width="1.0"/>
<path d="M872.70,493.20 L886.70,491.20 L872.70,489.20 Z" fill="#c8c8c8" stroke="none"/>
<path d="M872.70,493.20 L886.70,491.20 L872.70,489.20" fill="none" stroke="#000" stroke-width="0.85" stroke-linejoin="miter"/>
<line x1="886.70" y1="491.20" x2="881.10" y2="491.20" stroke="#000" stroke-width="1.0"/>
<g transform="translate(794.85,484.40) scale(0.9076,1)" fill="none" stroke="#1c1c2c" stroke-width="1.2" stroke-linecap="round" stroke-linejoin="round"><path transform="translate(0.00,0) matrix(14.400,0,-5.184,14.400,5.184,-14.400)" d="M0.04,0.27 L0.26,0 L0.26,1" vector-effect="non-scaling-stroke"/><path transform="translate(6.62,0) matrix(14.400,0,-5.184,14.400,5.184,-14.400)" d="M0,0.22 C0.03,0.07 0.11,0 0.22,0 C0.36,0 0.46,0.08 0.46,0.24 C0.46,0.42 0.25,0.66 0,1 L0.45,1" vector-effect="non-scaling-stroke"/><path transform="translate(15.26,0) matrix(14.400,0,-5.184,14.400,5.184,-14.400)" d="M0.44,0 L0.1,0 L0.05,0.5 C0.12,0.45 0.19,0.42 0.25,0.42 C0.37,0.42 0.44,0.52 0.44,0.7 C0.44,0.9 0.33,1 0.18,1 L0,1" vector-effect="non-scaling-stroke"/></g>
<g transform="translate(857.49,484.40) scale(0.7939,1)" fill="none" stroke="#1c1c2c" stroke-width="1.2" stroke-linecap="round" stroke-linejoin="round"><path transform="translate(0.00,0) matrix(14.400,0,-5.184,14.400,5.184,-14.400)" d="M0.02,0 L0.45,0 L0.06,1" vector-effect="non-scaling-stroke"/><path transform="translate(8.93,0) matrix(14.400,0,-5.184,14.400,5.184,-14.400)" d="M0.44,0 L0.1,0 L0.05,0.5 C0.12,0.45 0.19,0.42 0.25,0.42 C0.37,0.42 0.44,0.52 0.44,0.7 C0.44,0.9 0.33,1 0.18,1 L0,1" vector-effect="non-scaling-stroke"/></g>
<line x1="772.50" y1="528.80" x2="772.50" y2="552.00" stroke="#000" stroke-width="1.0"/>
<line x1="886.50" y1="528.80" x2="886.50" y2="590.00" stroke="#000" stroke-width="1.0"/>
<line x1="929.50" y1="528.80" x2="929.50" y2="590.00" stroke="#000" stroke-width="1.0"/>
<line x1="772.10" y1="534.50" x2="929.00" y2="534.50" stroke="#333" stroke-width="1.0"/>
<path d="M786.30,532.90 L772.30,534.90 L786.30,536.90 Z" fill="#c8c8c8" stroke="none"/>
<path d="M786.30,532.90 L772.30,534.90 L786.30,536.90" fill="none" stroke="#000" stroke-width="0.85" stroke-linejoin="miter"/>
<line x1="772.30" y1="534.90" x2="777.90" y2="534.90" stroke="#000" stroke-width="1.0"/>
<path d="M872.00,536.90 L886.00,534.90 L872.00,532.90 Z" fill="#c8c8c8" stroke="none"/>
<path d="M872.00,536.90 L886.00,534.90 L872.00,532.90" fill="none" stroke="#000" stroke-width="0.85" stroke-linejoin="miter"/>
<line x1="886.00" y1="534.90" x2="880.40" y2="534.90" stroke="#000" stroke-width="1.0"/>
<path d="M900.40,532.90 L886.40,534.90 L900.40,536.90 Z" fill="#c8c8c8" stroke="none"/>
<path d="M900.40,532.90 L886.40,534.90 L900.40,536.90" fill="none" stroke="#000" stroke-width="0.85" stroke-linejoin="miter"/>
<line x1="886.40" y1="534.90" x2="892.00" y2="534.90" stroke="#000" stroke-width="1.0"/>
<path d="M914.80,536.90 L928.80,534.90 L914.80,532.90 Z" fill="#c8c8c8" stroke="none"/>
<path d="M914.80,536.90 L928.80,534.90 L914.80,532.90" fill="none" stroke="#000" stroke-width="0.85" stroke-linejoin="miter"/>
<line x1="928.80" y1="534.90" x2="923.20" y2="534.90" stroke="#000" stroke-width="1.0"/>
<g transform="translate(814.71,527.50) scale(1.0121,1)" fill="none" stroke="#1c1c2c" stroke-width="1.2" stroke-linecap="round" stroke-linejoin="round"><path transform="translate(0.00,0) matrix(14.400,0,-5.184,14.400,5.184,-14.400)" d="M0,0.22 C0.03,0.07 0.11,0 0.22,0 C0.36,0 0.46,0.08 0.46,0.24 C0.46,0.42 0.25,0.66 0,1 L0.45,1" vector-effect="non-scaling-stroke"/><path transform="translate(8.64,0) matrix(14.400,0,-5.184,14.400,5.184,-14.400)" d="M0,0.25 L0,0.75 C0,0.91 0.08,1 0.19,1 C0.30,1 0.38,0.91 0.38,0.75 L0.38,0.25 C0.38,0.09 0.30,0 0.19,0 C0.08,0 0,0.09 0,0.25 Z" vector-effect="non-scaling-stroke"/><path transform="translate(17.86,0) matrix(14.400,0,-5.184,14.400,5.184,-14.400)" d="M0,0.25 L0,0.75 C0,0.91 0.08,1 0.19,1 C0.30,1 0.38,0.91 0.38,0.75 L0.38,0.25 C0.38,0.09 0.30,0 0.19,0 C0.08,0 0,0.09 0,0.25 Z" vector-effect="non-scaling-stroke"/></g>
<g transform="translate(900.38,527.50) scale(0.8227,1)" fill="none" stroke="#1c1c2c" stroke-width="1.2" stroke-linecap="round" stroke-linejoin="round"><path transform="translate(0.00,0) matrix(14.400,0,-5.184,14.400,5.184,-14.400)" d="M0.02,0 L0.45,0 L0.06,1" vector-effect="non-scaling-stroke"/><path transform="translate(8.93,0) matrix(14.400,0,-5.184,14.400,5.184,-14.400)" d="M0.44,0 L0.1,0 L0.05,0.5 C0.12,0.45 0.19,0.42 0.25,0.42 C0.37,0.42 0.44,0.52 0.44,0.7 C0.44,0.9 0.33,1 0.18,1 L0,1" vector-effect="non-scaling-stroke"/></g>
<line x1="759.50" y1="641.60" x2="759.50" y2="687.50" stroke="#000" stroke-width="1.0"/>
<line x1="780.50" y1="618.80" x2="780.50" y2="687.50" stroke="#000" stroke-width="1.0"/>
<line x1="963.50" y1="641.60" x2="963.50" y2="687.50" stroke="#000" stroke-width="1.0"/>
<line x1="711.80" y1="681.50" x2="963.60" y2="681.50" stroke="#333" stroke-width="1.0"/>
<path d="M744.80,683.00 L758.80,681.00 L744.80,679.00 Z" fill="#c8c8c8" stroke="none"/>
<path d="M744.80,683.00 L758.80,681.00 L744.80,679.00" fill="none" stroke="#000" stroke-width="0.85" stroke-linejoin="miter"/>
<line x1="758.80" y1="681.00" x2="753.20" y2="681.00" stroke="#000" stroke-width="1.0"/>
<path d="M795.00,679.00 L781.00,681.00 L795.00,683.00 Z" fill="#c8c8c8" stroke="none"/>
<path d="M795.00,679.00 L781.00,681.00 L795.00,683.00" fill="none" stroke="#000" stroke-width="0.85" stroke-linejoin="miter"/>
<line x1="781.00" y1="681.00" x2="786.60" y2="681.00" stroke="#000" stroke-width="1.0"/>
<path d="M949.40,683.00 L963.40,681.00 L949.40,679.00 Z" fill="#c8c8c8" stroke="none"/>
<path d="M949.40,683.00 L963.40,681.00 L949.40,679.00" fill="none" stroke="#000" stroke-width="0.85" stroke-linejoin="miter"/>
<line x1="963.40" y1="681.00" x2="957.80" y2="681.00" stroke="#000" stroke-width="1.0"/>
<g transform="translate(718.95,673.60) scale(0.9115,1)" fill="none" stroke="#1c1c2c" stroke-width="1.2" stroke-linecap="round" stroke-linejoin="round"><path transform="translate(0.00,0) matrix(14.400,0,-5.184,14.400,5.184,-14.400)" d="M0,0 L0.18,0 C0.31,0 0.37,0.09 0.37,0.22 C0.37,0.38 0.27,0.5 0.15,0.5 C0.33,0.5 0.44,0.6 0.44,0.74 C0.44,0.9 0.33,1 0.16,1 L0,1" vector-effect="non-scaling-stroke"/><path transform="translate(8.64,0) matrix(14.400,0,-5.184,14.400,5.184,-14.400)" d="M0.02,0 L0.45,0 L0.06,1" vector-effect="non-scaling-stroke"/></g>
<g transform="translate(860.52,673.60) scale(0.8743,1)" fill="none" stroke="#1c1c2c" stroke-width="1.2" stroke-linecap="round" stroke-linejoin="round"><path transform="translate(0.00,0) matrix(14.400,0,-5.184,14.400,5.184,-14.400)" d="M0,0 L0.18,0 C0.31,0 0.37,0.09 0.37,0.22 C0.37,0.38 0.27,0.5 0.15,0.5 C0.33,0.5 0.44,0.6 0.44,0.74 C0.44,0.9 0.33,1 0.16,1 L0,1" vector-effect="non-scaling-stroke"/><path transform="translate(8.64,0) matrix(14.400,0,-5.184,14.400,5.184,-14.400)" d="M0.04,0.27 L0.26,0 L0.26,1" vector-effect="non-scaling-stroke"/><path transform="translate(15.26,0) matrix(14.400,0,-5.184,14.400,5.184,-14.400)" d="M0.215,0.47 C0.1,0.47 0.03,0.38 0.03,0.23 C0.03,0.08 0.11,0 0.215,0 C0.32,0 0.40,0.08 0.40,0.23 C0.40,0.38 0.33,0.47 0.215,0.47 C0.09,0.47 0,0.56 0,0.73 C0,0.9 0.09,1 0.215,1 C0.34,1 0.43,0.9 0.43,0.73 C0.43,0.56 0.34,0.47 0.215,0.47 Z" vector-effect="non-scaling-stroke"/></g>
<g fill="none" stroke="#1c1c2c" stroke-width="1.2" stroke-linecap="round" stroke-linejoin="round"><path transform="translate(813.20,73.70) matrix(14.200,0,-5.112,14.200,5.112,-14.200)" d="M0,0 L0,1 M0.43,0 L0.0,0.5 M0.09,0.43 L0.43,1" vector-effect="non-scaling-stroke"/><path transform="translate(820.70,73.70) matrix(14.200,0,-5.112,14.200,5.112,-14.200)" d="M0,0 L0.36,1 L0.52,0" vector-effect="non-scaling-stroke"/><path transform="translate(831.10,73.70) matrix(14.200,0,-5.112,14.200,5.112,-14.200)" d="M0.06,0 L0.47,0 L0,1 L0.49,1" vector-effect="non-scaling-stroke"/><path transform="translate(842.30,73.70) matrix(14.200,0,-5.112,14.200,5.112,-14.200)" d="M-0.07,-0.08 Q-0.08,0.5 0,1.08" vector-effect="non-scaling-stroke"/><path transform="translate(844.40,73.70) matrix(14.200,0,-5.112,14.200,5.112,-14.200)" d="M0,0 L0,1 M0.43,0 L0.0,0.5 M0.09,0.43 L0.43,1" vector-effect="non-scaling-stroke"/><path transform="translate(852.60,73.70) matrix(14.200,0,-5.112,14.200,5.112,-14.200)" d="M0,0 L0.36,1 L0.52,0" vector-effect="non-scaling-stroke"/><path transform="translate(862.50,73.70) matrix(14.200,0,-5.112,14.200,5.112,-14.200)" d="M0,1 L0,0 L0.24,0 C0.37,0 0.44,0.09 0.44,0.25 C0.44,0.42 0.37,0.5 0.24,0.5 L0,0.5" vector-effect="non-scaling-stroke"/><path transform="translate(873.40,73.70) matrix(14.200,0,-5.112,14.200,5.112,-14.200)" d="M0.08,-0.08 Q0.1,0.5 0,1.08" vector-effect="non-scaling-stroke"/><path transform="translate(884.20,73.70) matrix(14.200,0,-5.112,14.200,5.112,-14.200)" d="M0,0 L0.18,0 C0.31,0 0.37,0.09 0.37,0.22 C0.37,0.38 0.27,0.5 0.15,0.5 C0.33,0.5 0.44,0.6 0.44,0.74 C0.44,0.9 0.33,1 0.16,1 L0,1" vector-effect="non-scaling-stroke"/><path transform="translate(892.30,73.70) matrix(14.200,0,-5.112,14.200,5.112,-14.200)" d="M0.44,0 L0.1,0 L0.05,0.5 C0.12,0.45 0.19,0.42 0.25,0.42 C0.37,0.42 0.44,0.52 0.44,0.7 C0.44,0.9 0.33,1 0.18,1 L0,1" vector-effect="non-scaling-stroke"/><path transform="translate(902.20,73.70) matrix(14.200,0,-5.112,14.200,5.112,-14.200)" d="M0,0.25 L0,0.75 C0,0.91 0.08,1 0.19,1 C0.30,1 0.38,0.91 0.38,0.75 L0.38,0.25 C0.38,0.09 0.30,0 0.19,0 C0.08,0 0,0.09 0,0.25 Z" vector-effect="non-scaling-stroke"/><path transform="translate(909.60,73.70) matrix(14.200,0,-5.112,14.200,5.112,-14.200)" d="M0,0.69 L0.45,0.69" vector-effect="non-scaling-stroke"/><path transform="translate(917.40,73.70) matrix(14.200,0,-5.112,14.200,5.112,-14.200)" d="M0.04,0.27 L0.26,0 L0.26,1" vector-effect="non-scaling-stroke"/><path transform="translate(923.60,73.70) matrix(14.200,0,-5.112,14.200,5.112,-14.200)" d="M0,0.22 C0.03,0.07 0.11,0 0.22,0 C0.36,0 0.46,0.08 0.46,0.24 C0.46,0.42 0.25,0.66 0,1 L0.45,1" vector-effect="non-scaling-stroke"/><path transform="translate(932.70,73.70) matrix(14.200,0,-5.112,14.200,5.112,-14.200)" d="M0,0.25 L0,0.75 C0,0.91 0.08,1 0.19,1 C0.30,1 0.38,0.91 0.38,0.75 L0.38,0.25 C0.38,0.09 0.30,0 0.19,0 C0.08,0 0,0.09 0,0.25 Z" vector-effect="non-scaling-stroke"/><path transform="translate(941.80,73.70) matrix(14.200,0,-5.112,14.200,5.112,-14.200)" d="M0,0.69 L0.45,0.69" vector-effect="non-scaling-stroke"/><path transform="translate(950.20,73.70) matrix(14.200,0,-5.112,14.200,5.112,-14.200)" d="M0,0 L0,1 L0.33,1" vector-effect="non-scaling-stroke"/><circle cx="957.33" cy="72.95" r="0.85" fill="#1c1c2c" stroke="none"/><path transform="translate(960.10,73.70) matrix(14.200,0,-5.112,14.200,5.112,-14.200)" d="M0,0.25 L0,0.75 C0,0.91 0.08,1 0.19,1 C0.30,1 0.38,0.91 0.38,0.75 L0.38,0.25 C0.38,0.09 0.30,0 0.19,0 C0.08,0 0,0.09 0,0.25 Z" vector-effect="non-scaling-stroke"/><path transform="translate(969.70,73.70) matrix(14.200,0,-5.112,14.200,5.112,-14.200)" d="M0,0.25 L0,0.75 C0,0.91 0.08,1 0.19,1 C0.30,1 0.38,0.91 0.38,0.75 L0.38,0.25 C0.38,0.09 0.30,0 0.19,0 C0.08,0 0,0.09 0,0.25 Z" vector-effect="non-scaling-stroke"/><circle cx="978.43" cy="72.95" r="0.85" fill="#1c1c2c" stroke="none"/><path transform="translate(981.00,73.70) matrix(14.200,0,-5.112,14.200,5.112,-14.200)" d="M0,0.25 L0,0.75 C0,0.91 0.08,1 0.19,1 C0.30,1 0.38,0.91 0.38,0.75 L0.38,0.25 C0.38,0.09 0.30,0 0.19,0 C0.08,0 0,0.09 0,0.25 Z" vector-effect="non-scaling-stroke"/><path transform="translate(990.60,73.70) matrix(14.200,0,-5.112,14.200,5.112,-14.200)" d="M0,0.25 L0,0.75 C0,0.91 0.08,1 0.19,1 C0.30,1 0.38,0.91 0.38,0.75 L0.38,0.25 C0.38,0.09 0.30,0 0.19,0 C0.08,0 0,0.09 0,0.25 Z" vector-effect="non-scaling-stroke"/><path transform="translate(1000.30,73.70) matrix(14.200,0,-5.112,14.200,5.112,-14.200)" d="M0,0.25 L0,0.75 C0,0.91 0.08,1 0.19,1 C0.30,1 0.38,0.91 0.38,0.75 L0.38,0.25 C0.38,0.09 0.30,0 0.19,0 C0.08,0 0,0.09 0,0.25 Z" vector-effect="non-scaling-stroke"/></g>
</svg></body></html>
